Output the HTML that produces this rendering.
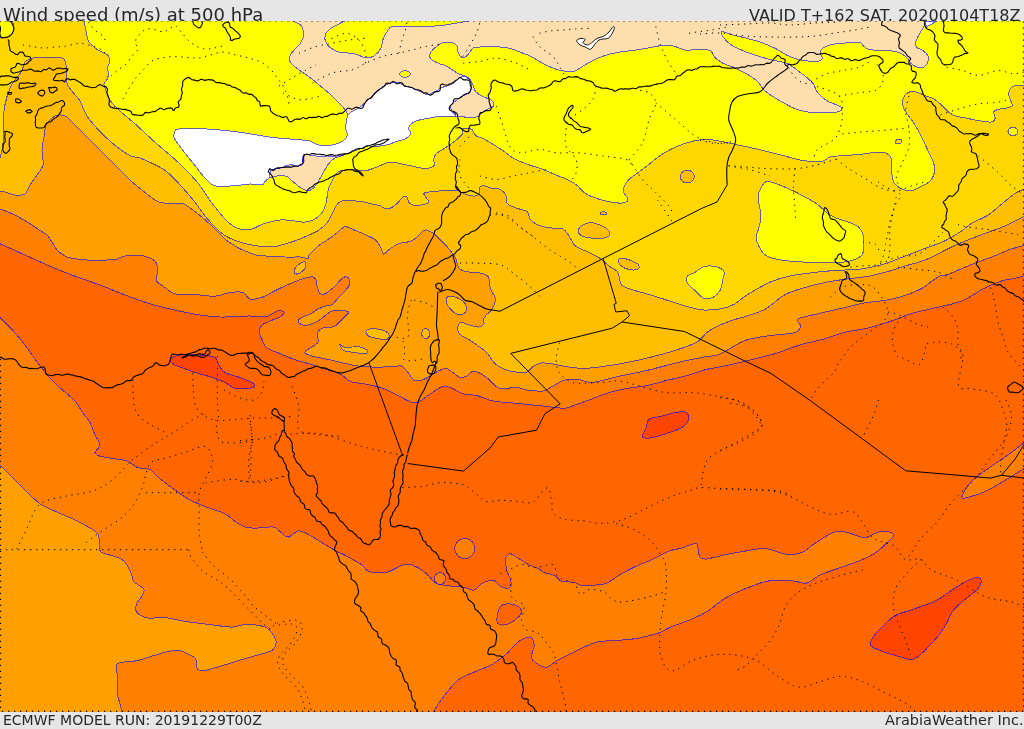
<!DOCTYPE html>
<html><head><meta charset="utf-8">
<style>
html,body{margin:0;padding:0;width:1024px;height:729px;overflow:hidden;background:#e6e6e6;}
#map{position:absolute;left:0;top:0;}
.t{position:absolute;font-family:"DejaVu Sans","Liberation Sans",sans-serif;color:#262626;white-space:nowrap;line-height:1;}
#hdr{position:absolute;left:0;top:0;width:1024px;height:21px;background:#e6e6e6;}
#ftr{position:absolute;left:0;top:712px;width:1024px;height:17px;background:#e6e6e6;}
</style></head><body>

<div class="t" id="t1" style="left:3px;top:6px;font-size:18px;">Wind speed (m/s) at 500 hPa</div>
<div class="t" id="t2" style="left:749px;top:8px;font-size:16px;">VALID T+162 SAT. 20200104T18Z</div>
<div class="t" id="t3" style="left:3px;top:713px;font-size:14px;">ECMWF MODEL RUN: 20191229T00Z</div>
<div class="t" id="t4" style="left:885px;top:713px;font-size:14.5px;">ArabiaWeather Inc.</div>
<svg id="map" width="1024" height="729" viewBox="0 0 1024 729">
<defs><clipPath id="mc"><rect x="0" y="21" width="1024" height="691"/></clipPath></defs>
<g clip-path="url(#mc)">
<rect x="-10" y="0" width="1050" height="740" fill="#ff6600"/>
<path d="M-6,14L-6,243.8L0,243.8C4.2,245.6 16.7,251.2 25,255C33.3,258.8 41.7,262.7 50,266.2C58.3,269.8 66.7,273.1 75,276.2C83.3,279.4 91.7,281.9 100,285C108.3,288.1 116.7,291.9 125,295C133.3,298.1 141.7,301.2 150,303.8C158.3,306.2 166.7,308.1 175,310C183.3,311.9 192.5,313.8 200,315C207.5,316.2 213.3,316.8 220,317C226.7,317.2 235,316.7 240,316.5C245,316.3 245.8,315.9 250,316C254.2,316.1 261.2,317.2 265,316.8C268.8,316.4 270.3,314.9 272.6,313.8C274.9,312.7 276.8,310.6 278.7,310.4C280.6,310.1 283.8,311.2 284,312.3C284.2,313.4 282.3,315.4 280.2,316.8C278.1,318.2 274.1,319.2 271.1,320.6C268.1,322 264,323.1 262,325C260,326.9 259,329.5 259,331.9C259,334.3 260.7,336.8 262,339.4C263.3,342 263.6,345.3 266.6,347.7C269.6,350.1 275.4,351.7 280.2,353.7C285,355.7 289.8,357.9 295.3,359.8C300.8,361.7 307.9,363.2 313.4,365C318.9,366.8 324.1,368.9 328.5,370.3C332.9,371.7 336.3,371.7 340,373.6C343.7,375.5 346.1,379.7 350.5,381.5C354.9,383.3 360.8,383 366.4,384.2C372,385.4 378.6,386.7 383.9,388.6C389.2,390.5 393.6,393.4 398,395.6C402.4,397.8 407.1,400.5 410.3,401.7C413.5,402.9 414.4,403.6 417.3,402.6C420.2,401.6 424.4,397.9 427.9,395.6C431.4,393.3 435.5,390.2 438.4,388.6C441.3,387 442.9,385.8 445.5,385.9C448.1,386 451.4,388.1 454.3,389.4C457.2,390.7 459.2,392.8 463,393.8C466.8,394.8 472.7,394.6 477.1,395.6C481.5,396.6 485.9,399 489.4,400C492.9,401 495,401.3 498.2,401.7C501.4,402.1 504.8,402.2 508.7,402.6C512.6,403 515.8,403.3 521.5,403.9C527.2,404.5 535.8,405.3 543,406C550.2,406.7 559.1,408.4 564.5,408.2C569.9,408 570.9,406.3 575.2,404.9C579.5,403.5 584.8,401.6 590.2,399.6C595.6,397.6 601.7,394.9 607.4,393.1C613.1,391.3 618.1,390.1 624.6,388.8C631.1,387.6 638.9,387 646.1,385.6C653.3,384.2 660.4,382 667.6,380.2C674.8,378.4 682.7,376.7 689.1,374.9C695.5,373.1 700.8,370.9 706.3,369.5C711.8,368.1 714.7,368.1 722,366.5C729.3,364.9 741.4,362.1 750.2,360C759,357.9 767,356 775,353.6C783,351.2 790.6,347.8 798.4,345.4C806.2,343 814,341.7 821.9,339.5C829.8,337.3 838.2,333.9 846,332C853.8,330.1 861,329.7 868.7,327.8C876.4,325.9 885.2,323.2 892.2,320.8C899.2,318.4 904.4,315.7 910.9,313.7C917.4,311.7 922.9,310.8 931.3,308.7C939.7,306.6 953,304.3 961.5,301.1C970,297.9 975.6,292.7 982.3,289.3C989,285.9 996,282.8 1001.5,281C1007,279.2 1011.5,279.2 1015.2,278.3C1019,277.4 1022.5,276.1 1024,275.6L1030,275.6L1030,14L-6,14Z" fill="#ff8000" stroke="#0000ff" stroke-opacity="0.6" stroke-width="1" shape-rendering="crispEdges"/>
<path d="M-6,317.5L0,317.5C2.1,319.6 8.3,325.4 12.5,330C16.7,334.6 20.8,339.6 25,345C29.2,350.4 33.3,357 37.5,362.5C41.7,368 45.8,373.4 50,378C54.2,382.6 58.3,386.2 62.5,390C66.7,393.8 71.7,397.2 75,401C78.3,404.8 80,408.9 82.5,412.5C85,416.1 87.9,418.8 90,422.5C92.1,426.2 93.3,431.2 95,435C96.7,438.8 100,442.1 100,445C100,447.9 95,450.6 95,452.5C95,454.4 96.7,455.2 100,456.2C103.3,457.3 110.4,457.9 115,458.8C119.6,459.6 123.8,459.8 127.5,461.2C131.2,462.7 133.8,466.1 137.5,467.5C141.2,468.9 146.2,467.6 150,469.5C153.8,471.4 155.8,475.3 160,478.8C164.2,482.2 170,486.5 175,490C180,493.5 184.6,497.1 190,500C195.4,502.9 201.7,505.2 207.5,507.5C213.3,509.8 220.4,511.4 225,513.8C229.6,516.1 231.7,519.3 235,521.5C238.3,523.7 241.6,525.9 245,527C248.4,528.1 250.5,528.2 255.2,528.2C259.9,528.2 268.8,526.4 273,527C277.2,527.6 278.1,530.3 280.6,532C283.1,533.7 285.2,537.3 288.2,537.1C291.2,536.9 295,531.2 298.4,530.8C301.8,530.4 304.8,532.7 308.6,534.6C312.4,536.5 317.1,539.7 321.3,542.2C325.5,544.7 329.8,547.5 334,549.8C338.2,552.1 342.1,553.7 346.7,556.2C351.3,558.7 358.4,562.5 361.9,565C365.4,567.5 365.1,569.7 367.6,571C370.1,572.3 373.9,572.5 377.1,572.7C380.3,572.9 384.1,572.7 386.7,572.3C389.2,571.9 389.2,571.5 392.4,570.1C395.6,568.7 401.7,564.5 405.9,564.1C410.1,563.7 414.1,565.8 417.8,567.6C421.5,569.5 424.9,572.6 427.9,575.2C430.9,577.8 432.4,581.4 436,583.2C439.6,585 445.1,585.3 449.6,586C454.2,586.7 459.2,586.6 463.3,587.3C467.4,588 471,590.8 474.2,590.1C477.4,589.4 479.2,584.8 482.4,583.2C485.6,581.6 490.3,580 493.4,580.5C496.5,581 498.4,585.3 501,586.5C503.6,587.7 507.6,588.8 509.2,587.9C510.8,587 511.3,584 510.9,581C510.5,578 507.7,573.8 506.8,570.1C505.9,566.5 505.3,561.6 505.5,559.1C505.7,556.6 506.9,555.9 507.8,555C508.7,554.1 509.3,553.2 510.9,553.7C512.5,554.2 515.6,556.6 517.4,557.7C519.2,558.8 520.1,559.4 521.9,560.5C523.7,561.6 525.7,563.2 528.4,564.6C531.1,566 535.5,567.3 538.3,568.7C541,570.1 542.2,571.7 544.9,572.8C547.6,573.9 552,574.1 554.7,575.5C557.4,576.9 558.1,579.9 561.3,581C564.5,582.1 570.6,581.7 573.8,582.4C577,583.1 577.8,584.6 580.5,585.1C583.2,585.6 586.1,585.3 590.2,585.1C594.3,584.9 600.3,585.5 605.2,583.8C610.1,582.1 614.2,578 619.5,575C624.8,572 631.1,568.6 636.7,566C642.3,563.4 647.6,561.6 653.1,559.1C658.6,556.6 664.7,552.7 669.5,550.9C674.3,549.1 678.6,549.1 682,548.1C685.4,547.1 687.5,545.7 690,545C692.5,544.3 695.3,542.2 696.9,544.1C698.5,546 698.2,553.9 699.6,556.4C701,558.9 703.5,558.8 705.1,559.1C706.7,559.5 706.2,559.2 709.4,558.5C712.6,557.8 718.1,556.3 724.2,555C730.3,553.7 739.2,552 746.1,550.9C753,549.8 759.4,548.1 765.9,548.6C772.4,549.1 779.1,553.3 785.1,554C791.1,554.7 796.6,554.5 801.6,552.7C806.6,550.9 809.8,546.5 815.3,543.1C820.8,539.7 829,533.8 834.5,532.1C840,530.4 843.2,531.8 848.2,532.7C853.2,533.6 859.7,537.7 864.7,537.6C869.7,537.5 874.3,533 878.4,532.1C882.5,531.2 886.9,531.4 889.4,532.1C891.9,532.8 894,534.4 893.5,536.2C893,538 889.6,540.4 886.6,543.1C883.6,545.9 880.2,549.7 875.6,552.7C871,555.7 865.1,558.4 859.2,560.9C853.3,563.4 846.4,565.5 840,567.8C833.6,570.1 826.3,572.1 820.8,574.6C815.3,577.1 811.2,581.8 807.1,582.9C803,584 799.8,582 796.1,581.5C792.4,581 790.1,580.1 785.1,580.1C780.1,580.1 773.3,579.8 765.9,581.5C758.5,583.2 747.5,587.7 740.6,590.6C733.7,593.5 729.7,595.4 724.2,598.8C718.7,602.2 713.3,607.7 707.8,611.1C702.3,614.5 697.8,616.6 691.4,619.3C685,622 675,625.2 669.5,627.5C664,629.8 664.1,631.2 658.6,633C653.1,634.8 644,637.1 636.7,638.4C629.4,639.7 621.2,640 614.8,640.6C608.4,641.2 603.9,640.5 598.4,641.7C592.9,642.9 587,645.8 582,648C577,650.2 572.5,652.8 568.4,654.8C564.3,656.8 561,658.2 557.4,660.3C553.8,662.4 549.7,666.5 546.5,667.2C543.3,667.9 540.8,666 538.3,664.4C535.8,662.8 532.1,660.8 531.4,657.6C530.7,654.4 534.4,648.7 534.2,645.3C534,641.9 532.6,637.8 530.1,637.1C527.6,636.4 522.3,639.2 519.1,641.2C515.9,643.2 513.4,647 510.9,649.4C508.4,651.8 507.7,653.1 504.3,655.7C500.9,658.4 495.6,662.6 490.6,665.3C485.6,668 479.7,669.6 474.2,672.1C468.7,674.6 463.3,675.7 457.8,680.3C452.3,684.9 445.5,694.2 441.4,699.5C437.3,704.8 434.6,709.9 433.2,712L433.2,718L-6,718L-6,317.5Z" fill="#ff8000" stroke="#0000ff" stroke-opacity="0.6" stroke-width="1" shape-rendering="crispEdges"/>
<path d="M962,496.5C962.5,494 966.6,486.7 970.6,482.3C974.6,477.9 980.2,474.2 985.7,470.2C991.2,466.2 1000.8,460.1 1003.8,458.1L1024,443L1030,440L1030,466L1024,468.7L1006.8,479.2C1003.3,481.2 992.2,488.3 985.7,491.3C979.2,494.3 971.5,496.5 967.5,497.4C963.5,498.3 961.5,499 962,496.5Z" fill="#ff8000" stroke="#0000ff" stroke-opacity="0.6" stroke-width="1" shape-rendering="crispEdges"/>
<path d="M474.8,548.5C474.8,550.2 474.3,552.1 473.5,553.5C472.6,554.9 471.2,556.3 469.8,557.2C468.4,558 466.5,558.5 464.8,558.5C463.1,558.5 461.2,558 459.8,557.2C458.4,556.3 457,554.9 456.1,553.5C455.3,552.1 454.8,550.2 454.8,548.5C454.8,546.8 455.3,544.9 456.1,543.5C457,542.1 458.4,540.7 459.8,539.8C461.2,539 463.1,538.5 464.8,538.5C466.5,538.5 468.4,539 469.8,539.8C471.2,540.7 472.6,542.1 473.5,543.5C474.3,544.9 474.8,546.8 474.8,548.5Z" fill="#ff8000" stroke="#0000ff" stroke-opacity="0.6" stroke-width="1" shape-rendering="crispEdges"/>
<path d="M445.5,578.5C445.5,579.5 445.2,580.6 444.8,581.5C444.3,582.4 443.5,583.2 442.8,583.7C442,584.2 440.9,584.5 440,584.5C439.1,584.5 438,584.2 437.2,583.7C436.5,583.2 435.7,582.4 435.2,581.5C434.8,580.6 434.5,579.5 434.5,578.5C434.5,577.5 434.8,576.4 435.2,575.5C435.7,574.6 436.5,573.8 437.2,573.3C438,572.8 439.1,572.5 440,572.5C440.9,572.5 442,572.8 442.8,573.3C443.5,573.8 444.3,574.6 444.8,575.5C445.2,576.4 445.5,577.5 445.5,578.5Z" fill="#ff8000" stroke="#0000ff" stroke-opacity="0.6" stroke-width="1" shape-rendering="crispEdges"/>
<path d="M498.8,609.2C499.9,606.1 501.6,605 504.3,604.3C507,603.6 512.3,604 515.2,605.1C518.1,606.2 521,608.6 521.5,610.6C522,612.6 520.4,615.1 518,617.4C515.6,619.7 510.4,623.4 507,624.3C503.6,625.2 498.9,625.4 497.5,622.9C496.1,620.4 497.7,612.3 498.8,609.2Z" fill="#ff6600" stroke="#0000ff" stroke-opacity="0.6" stroke-width="1" shape-rendering="crispEdges"/>
<path d="M-6,14L-6,209L0,209C2.5,210 9.7,212.3 15,215C20.3,217.7 27.8,222.4 32,225C36.2,227.6 37.5,228.8 40,230.5C42.5,232.2 45,233.1 47,235C49,236.9 50.3,239.5 52,242C53.7,244.5 55.3,248 57,250C58.7,252 60.3,252.8 62,254C63.7,255.2 64.8,256.2 67,257C69.2,257.8 71.7,258.2 75,258.8C78.3,259.2 83.7,259.6 87,260C90.3,260.4 91.7,261 95,261C98.3,261 103.7,260.2 107,260C110.3,259.8 112,260.2 115,259.5C118,258.8 121.7,256.7 125,256C128.3,255.3 131.7,255.5 135,255.5C138.3,255.5 141.7,255.3 145,256.2C148.3,257.2 152.8,259 155,261.2C157.2,263.5 157.8,266.9 158,270C158.2,273.1 155.9,277.7 156.2,280C156.6,282.3 158.5,282.8 160,284C161.5,285.2 162.5,285.9 165,287.5C167.5,289.1 170,292.6 175,293.8C180,294.9 188.3,294.1 195,294.5C201.7,294.9 209.2,296.6 215,296.2C220.8,295.9 225.3,293.1 230,292.5C234.7,291.9 239.7,291.4 243,292.5C246.3,293.6 246.8,298.2 250,299C253.2,299.8 257.5,298.8 262,297.2C266.5,295.6 272.1,292 277.2,289.6C282.2,287.2 287.8,284.7 292.3,282.8C296.8,280.9 301,279.3 304.3,278.3C307.6,277.3 310,276.7 311.9,276.8C313.8,276.9 314.7,277.4 315.6,279C316.5,280.6 316.5,284.2 317.2,286.6C317.9,289 318.5,292 319.7,293.2C320.9,294.4 323,294.4 324.6,294C326.2,293.6 327.6,292.2 329.5,290.7C331.4,289.2 334.4,286.7 336.1,285C337.9,283.3 338.5,281.9 340,280.5C341.5,279.1 343.4,277.1 345,276.8C346.6,276.6 348.6,277.6 349.3,279C350,280.4 349.9,283.2 349.3,285C348.8,286.8 347.6,288 346,289.9C344.4,291.8 341.3,294.4 339.4,296.5C337.5,298.6 335.9,300.8 334.5,302.2C333.1,303.6 332.8,304.4 331.2,305.1C329.6,305.8 326.8,305.7 324.6,306.4C322.4,307.1 320.2,308 318,309.2C315.8,310.4 313.6,312.2 311.4,313.4C309.2,314.6 306.9,315.2 304.8,316.2C302.7,317.2 300,318.4 299,319.5C298,320.6 298.2,321.8 299,322.8C299.8,323.8 301.9,325.1 304,325.3C306.1,325.5 308.9,324.8 311.4,324C313.9,323.2 316.5,321.8 318.8,320.4C321.1,319 323.2,317 325.4,315.4C327.6,313.8 329.7,311.7 332,310.9C334.3,310.1 336.8,310.4 339.4,310.5C342,310.6 346.2,310.9 347.7,311.3C349.2,311.7 349.1,312.1 348.5,313C347.9,313.9 346,315.4 344.4,317C342.8,318.6 340.2,321.2 338.6,322.8C337,324.4 336.4,325.7 334.5,326.5C332.6,327.3 329.2,327 327,327.4C324.8,327.8 322.8,327.9 321.3,328.6C319.8,329.4 318.6,330.7 318,331.9C317.4,333.1 317.6,334.2 317.6,336C317.6,337.8 318.8,340.6 317.9,342.4C316.9,344.2 313.9,345.6 311.9,347C309.9,348.4 306.8,349.6 305.8,350.7C304.8,351.8 304.3,352.7 305.8,353.7C307.3,354.7 311.1,355.8 314.9,356.8C318.7,357.8 324.3,358.6 328.5,359.5C332.7,360.4 335.1,361.1 340,362.2C344.9,363.3 351.7,365.2 357.6,366C363.5,366.8 369.4,367 375.2,367.1C381,367.2 388.3,366.8 392.7,366.6C397.1,366.4 399.1,365.3 401.5,366C403.9,366.7 404.8,368.7 406.8,371C408.9,373.3 411.5,378.2 413.8,379.8C416.1,381.4 418.3,381.2 420.9,380.6C423.5,380 426.7,377.8 429.6,376.2C432.5,374.6 435.8,372.3 438.4,371C441,369.7 443.4,368.3 445.5,368.3C447.6,368.3 448.4,369.5 450.7,371C453,372.5 456.9,376.2 459.5,377.1C462.1,378 464.6,377.1 466.6,376.2C468.7,375.3 469.8,372.5 471.8,371.9C473.9,371.3 476,371.4 478.9,372.7C481.8,374 486.5,377.4 489.4,379.8C492.3,382.2 494,385.3 496.4,386.8C498.8,388.3 500.9,388.5 503.5,388.6C506.1,388.8 509.5,387.8 512.3,387.7C515,387.6 517.8,387.6 520,388C522.2,388.4 522,389.4 525.8,389.9C529.6,390.4 538.7,391.5 543,391C547.3,390.5 548,388.5 551.6,386.7C555.2,384.9 560.2,381.4 564.5,380.2C568.8,378.9 573,378.8 577.3,379.2C581.6,379.6 585.9,382.2 590.2,382.4C594.5,382.6 598.1,381.3 603.1,380.2C608.1,379.1 613.8,377.3 620.3,375.9C626.8,374.5 634.6,373.2 641.8,371.6C649,370 656.1,368.1 663.3,366.3C670.5,364.5 677.6,362.5 684.8,360.9C692,359.3 700.4,357.8 706.3,356.6C712.2,355.5 713.5,356.7 720,354C726.5,351.3 736.5,343.6 745,340.5C753.5,337.4 762.7,336.8 771,335.5C779.3,334.2 790.1,334.1 795,332.5C799.9,330.9 800,328.2 800.5,326C801,323.8 795.2,321 798,319C800.8,317 809.9,315.8 817,314C824.1,312.2 832.8,310.3 840.6,308.5C848.4,306.7 856.2,304.4 864,303C871.8,301.6 880.5,301.3 887.5,300C894.5,298.7 900.4,297 906.2,295C912.1,293 918.3,290.3 922.6,288C926.9,285.7 929.1,283 932,281C934.9,279 937.6,277 940,276C942.4,275 941.4,276.9 946.6,275C951.8,273.1 963.5,267.7 971.3,264.6C979.1,261.5 986.9,258.9 993.3,256.4C999.7,253.9 1004.6,251.3 1009.7,249.5C1014.8,247.7 1021.6,246.1 1024,245.4L1030,245.4L1030,14L-6,14Z" fill="#ffa000" stroke="#0000ff" stroke-opacity="0.6" stroke-width="1" shape-rendering="crispEdges"/>
<path d="M-6,465L0,465C2.1,467.1 8.3,473.3 12.5,477.5C16.7,481.7 20.4,485.6 25,490C29.6,494.4 35,500.2 40,503.8C45,507.3 49.2,508.5 55,511.2C60.8,514 69.2,517.2 75,520C80.8,522.8 86.2,525.7 90,528C93.8,530.3 96.4,531.3 98,534C99.6,536.7 99,541 99.5,544C100,547 98.5,549.9 101,552C103.5,554.1 111,555 114.8,556.5C118.6,558 121.2,558.1 124,561C126.8,563.9 129.6,570.3 131.3,573.8C133,577.3 131.9,579.5 134,582C136.1,584.5 142.2,586.5 143.6,588.8C145,591.1 143.3,593.1 142.2,595.6C141,598.1 137.6,601.1 136.7,603.8C135.8,606.5 134.9,609.6 136.7,612C138.5,614.4 143.1,617.1 147.7,618C152.3,618.9 157.7,616.9 164.1,617.5C170.5,618.1 178.7,620.5 186,621.6C193.3,622.7 200.1,623.4 207.8,624.3C215.5,625.2 226,627.1 232.4,627.1C238.8,627.1 240.6,624.3 246.1,624.3C251.6,624.3 260.6,625.3 265.2,627.1C269.8,628.9 271.6,632.8 273.4,635.3C275.2,637.8 276.4,639.6 276.2,642.1C276,644.6 274.8,648.2 272.1,650.3C269.4,652.3 265.1,652.8 259.8,654.4C254.6,656 247.4,657.8 240.6,659.9C233.8,662 225.2,664.9 218.8,666.7C212.4,668.5 206.1,670.6 202.4,670.8C198.8,671 198.1,670.1 196.9,668.1C195.8,666.1 197.3,661 195.5,658.5C193.7,656 189,654.5 186,653.1C183,651.7 181.3,650.4 177.7,650.3C174,650.2 168.2,651.6 164.1,652.5C160,653.4 157.7,654.4 153.1,655.8C148.5,657.2 142.2,659.6 136.7,660.7C131.2,661.8 123.7,661.6 120.3,662.6C116.9,663.6 116.7,664.2 116.2,666.7C115.8,669.2 117.4,673.1 117.6,677.7C117.8,682.3 117.1,689.6 117.6,694.1C118,698.6 119.6,702 120.3,705C121,708 121.5,710.8 121.7,712L121.7,718L-6,718L-6,465Z" fill="#ffa000" stroke="#0000ff" stroke-opacity="0.6" stroke-width="1" shape-rendering="crispEdges"/>
<path d="M-6,14L-6,191L0,191C0.8,191.2 2.5,191.3 5,192C7.5,192.7 11.7,194.7 15,195C18.3,195.3 22.5,195.7 25,194C27.5,192.3 28,188.2 30,185C32,181.8 34.8,178.3 37,175C39.2,171.7 42.2,169.2 43,165C43.8,160.8 41.8,154.7 42,150C42.2,145.3 43.3,141.2 44,137C44.7,132.8 44.7,128.2 46,125C47.3,121.8 49.8,119.7 52,118C54.2,116.3 56.7,115.2 59,115C61.3,114.8 63.3,114.8 66,116.5C68.7,118.2 71,121.1 75,125C79,128.9 85,135 90,140C95,145 100,150 105,155C110,160 115.8,165.8 120,170C124.2,174.2 126.2,176.5 130,180C133.8,183.5 138.3,187.2 143,190.8C147.7,194.4 153,199.4 158,201.6C163,203.8 168.7,203.3 173,203.7C177.3,204.1 179.4,202.2 183.7,204C188,205.8 194.1,210.8 198.8,214.5C203.5,218.2 207.6,221.9 212,226C216.4,230.1 221.5,235.9 225,239C228.5,242.1 230.5,242.9 233,244.5C235.5,246.1 237.1,247.3 240,248.8C242.9,250.2 247.3,251.9 250.3,253C253.3,254.1 254.6,255 258,255.5C261.4,256 266.5,256 271,256.2C275.5,256.5 281,256.9 285,257C289,257.1 292.2,257 295,257C297.8,257 299.8,256.9 302,257.1C304.2,257.4 306.9,258.9 308.1,258.5C309.3,258.1 307.7,256.7 309,255C310.3,253.3 313.7,250.1 315.7,248.2C317.7,246.3 319.4,244.9 321,243.8C322.6,242.6 323,242.8 325.3,241.3C327.6,239.8 331.9,236.8 334.9,234.5C337.9,232.2 341.1,228.9 343.1,227.6C345.2,226.3 345.1,226.4 347.2,226.9C349.2,227.4 352.4,229.1 355.4,230.4C358.4,231.7 361.8,233 365,234.5C368.2,236 372.2,237.4 374.7,239.3C377.2,241.2 378.5,243.6 380,246C381.5,248.4 382.1,253.3 383.5,254C384.9,254.7 386,251.7 388.5,250C391,248.3 394.8,245.2 398.5,243.8C402.2,242.3 407.8,242.5 411,241.2C414.2,240 416,237.7 418,236C420,234.3 421.5,232 423,231C424.5,230 425.7,229.8 427,230C428.3,230.2 429.6,231.2 431,232C432.4,232.8 433.3,233 435.1,234.6C436.9,236.2 439.9,239.4 442,241.5C444.1,243.6 445.6,244.9 447.4,247C449.2,249.1 451.5,252 452.9,253.8C454.3,255.6 455,256.4 455.7,258C456.4,259.6 456.3,261.6 457,263.4C457.7,265.2 458.4,267.5 459.8,268.9C461.2,270.3 462.8,271 465.3,271.6C467.8,272.2 471.9,272 474.9,272.3C477.9,272.6 480.8,272.9 483.1,273.7C485.4,274.5 487.6,275.4 488.6,277.1C489.6,278.8 488.9,281.7 489.3,284C489.8,286.3 490.4,288.8 491.3,290.8C492.2,292.9 494.2,294.2 494.8,296.3C495.4,298.4 495.4,300.9 494.8,303.2C494.2,305.5 492.8,307.9 491.3,310C489.8,312.1 487.2,313.7 485.8,315.5C484.4,317.3 483.4,319.6 483.1,321C482.8,322.4 484.7,323 484,324C483.3,325 481.3,326.8 479,327C476.7,327.2 472.9,326 470,325.3C467.1,324.6 463.3,322.3 461.3,322.6C459.3,322.9 458.1,325.1 457.8,327C457.5,328.9 457.8,331.9 459.5,334C461.2,336.1 465.1,337.2 468.3,339.3C471.5,341.4 476,344.3 478.9,346.4C481.8,348.4 483.8,349.6 485.9,351.6C487.9,353.7 489.4,356.5 491.2,358.7C492.9,360.9 493.8,362.9 496.4,364.8C499,366.7 504.2,369 507,370.1C509.8,371.2 509.8,371.2 512.9,371.6C516,372 522.6,373.4 525.8,372.7C529,372 529.7,368.9 532.2,367.3C534.7,365.7 537.2,363.5 540.8,363C544.4,362.5 549.8,363.6 553.7,364.1C557.7,364.7 559.9,365.6 564.5,366.3C569.1,367 576.2,368.2 581.6,368.4C587,368.6 590.6,368 596.7,367.3C602.8,366.6 611.1,365.4 618.2,364.1C625.4,362.9 632.5,361.4 639.6,359.8C646.8,358.2 653.9,356.5 661.1,354.5C668.3,352.5 676.5,350.1 682.6,348C688.7,345.9 693.8,344.1 697.7,341.6C701.7,339.1 703.4,335.3 706.3,333C709.1,330.7 710.8,329.6 714.8,327.6C718.8,325.6 725.1,322.7 730.5,320.8C735.9,318.9 741,318.1 746.9,316.1C752.8,314.1 759.4,312.5 765.6,309C771.9,305.5 778.1,298.5 784.4,295C790.6,291.5 796.1,290.1 803.1,288C810.1,285.9 818.8,283.7 826.6,282.1C834.4,280.5 843,279.6 850,278.6C857,277.6 862.5,277.4 868.7,276.2C875,275 881.2,273.4 887.5,271.6C893.8,269.9 899.6,267.8 906.2,265.7C912.9,263.6 919.3,262.5 927.4,259.1C935.5,255.7 945.8,249.5 954.9,245.4C964,241.3 974.1,237.6 982.3,234.4C990.5,231.2 997.3,229.2 1004.3,226.2C1011.2,223.2 1020.7,218.2 1024,216.6L1030,216.6L1030,14L-6,14Z" fill="#ffbf00" stroke="#0000ff" stroke-opacity="0.6" stroke-width="1" shape-rendering="crispEdges"/>
<path d="M294,272C293.8,270.8 294.8,268.5 296,267C297.2,265.5 299.5,263.8 301,263C302.5,262.2 304.2,261.3 305,262C305.8,262.7 306,265.4 305.5,267C305,268.6 303.4,270.3 302,271.5C300.6,272.7 298.3,273.9 297,274C295.7,274.1 294.2,273.2 294,272Z" fill="#ffbf00" stroke="#0000ff" stroke-opacity="0.6" stroke-width="1" shape-rendering="crispEdges"/>
<path d="M366.4,330.5C367.6,329.3 372,328.7 375.2,328.8C378.4,328.9 383.4,330.2 385.7,331.4C388,332.6 389,334.5 389.2,335.8C389.4,337.1 388.7,338.9 386.6,339.3C384.6,339.8 380,339.1 376.9,338.5C373.8,337.9 369.9,337.1 368.1,335.8C366.4,334.5 365.2,331.7 366.4,330.5Z" fill="#ffbf00" stroke="#0000ff" stroke-opacity="0.6" stroke-width="1" shape-rendering="crispEdges"/>
<path d="M339.8,344C339.8,343.4 341.5,346.5 343.6,347C345.7,347.5 350.3,347.1 352.6,347C354.9,346.9 355.6,346.1 357.6,346.4C359.6,346.7 363,347.7 364.7,348.6C366.4,349.5 367.9,350.8 367.9,351.6C367.9,352.5 367.2,353.6 364.7,353.7C362.1,353.8 356.1,352.8 352.6,352.2C349.1,351.6 345.7,351.8 343.6,350.4C341.5,349 339.8,344.6 339.8,344Z" fill="#ffbf00" stroke="#0000ff" stroke-opacity="0.6" stroke-width="1" shape-rendering="crispEdges"/>
<path d="M429.7,333.6C429.7,334.4 429.5,335.4 429.2,336.1C428.8,336.8 428.3,337.5 427.7,337.9C427.1,338.3 426.4,338.6 425.7,338.6C425,338.6 424.3,338.3 423.7,337.9C423.1,337.5 422.6,336.8 422.2,336.1C421.9,335.4 421.7,334.4 421.7,333.6C421.7,332.8 421.9,331.8 422.2,331.1C422.6,330.4 423.1,329.7 423.7,329.3C424.3,328.9 425,328.6 425.7,328.6C426.4,328.6 427.1,328.9 427.7,329.3C428.3,329.7 428.8,330.4 429.2,331.1C429.5,331.8 429.7,332.8 429.7,333.6Z" fill="#ffbf00" stroke="#0000ff" stroke-opacity="0.6" stroke-width="1" shape-rendering="crispEdges"/>
<path d="M446.7,297.7C447.5,296.6 449.3,296.1 451.5,296.3C453.7,296.5 457.5,297.7 459.8,299C462.1,300.3 464.2,302.1 465.3,303.9C466.4,305.7 467.1,308.3 466.6,310C466.1,311.7 464.3,313.6 462.5,314.2C460.7,314.8 457.8,314.4 455.7,313.5C453.6,312.6 451.7,310.4 450.2,308.7C448.7,307 447.3,305 446.7,303.2C446.1,301.4 445.9,298.8 446.7,297.7Z" fill="#ffbf00" stroke="#0000ff" stroke-opacity="0.6" stroke-width="1" shape-rendering="crispEdges"/>
<path d="M-6,14L-6,158L0,158C0.3,156.7 1.4,153.3 2,150C2.6,146.7 3.3,142.8 3.5,138C3.7,133.2 3,126.6 3.3,121C3.5,115.4 3.9,110 5,104.5C6.1,99 8.3,92.1 10,88C11.7,83.9 13.1,82.8 15,80C16.9,77.2 20,74 21.7,71C23.4,68 23.6,64 25,62C26.4,60 28.1,59.7 30,59C31.9,58.3 31.7,57.9 36.7,57.7C41.7,57.5 55.3,57.2 60,57.7C64.7,58.2 63.9,58.8 65,61C66.1,63.2 66.5,67.4 66.8,71C67.1,74.6 66,79.5 66.8,82.8C67.6,86.1 69.6,88 71.8,91C74,94 77.5,96.8 80,101C82.5,105.2 83.7,110.9 87,116C90.3,121.1 95,126.3 100,131.5C105,136.7 112,143 117,147C122,151 126.2,153.7 130,155.5C133.8,157.3 136.4,156.8 140,158C143.6,159.2 147.1,160.8 151.5,163C155.9,165.2 161.5,167.6 166.5,171.5C171.5,175.4 176.9,181.5 181.6,186.5C186.3,191.5 190.2,196.2 194.5,201.6C198.8,207 202.7,213.4 207.3,218.8C212,224.1 217.4,230 222.4,233.8C227.4,237.6 232,239.3 237.4,241.3C242.8,243.3 248.9,244.7 254.6,245.6C260.3,246.5 267.6,246.7 271.8,246.7C276,246.7 276.4,246.3 280,245.4C283.6,244.5 289.1,242.9 293.7,241.3C298.3,239.7 303.3,237.6 307.4,235.8C311.5,234 315.2,232.5 318.4,230.4C321.6,228.3 324.3,226.2 326.6,223.5C328.9,220.8 330.5,216.9 332.1,213.9C333.7,210.9 334.8,207.8 336.2,205.7C337.6,203.6 338.8,202.5 340.4,201.6C342,200.7 343.3,200.3 345.8,200.2C348.3,200.1 352.2,200.6 355.4,200.9C358.6,201.2 362,201.6 365,202.2C368,202.8 370.8,203.7 373.3,204.3C375.8,204.9 378.2,205.1 380,205.7C381.8,206.3 382.3,207.6 384,208C385.7,208.4 387.9,209 390,208.3C392.1,207.6 394.6,205.6 396.6,203.9C398.6,202.2 400.7,199.2 402,197.9C403.3,196.6 403.4,196.3 404.3,196.2C405.2,196.1 406.9,196.3 407.6,197.3C408.3,198.3 407.4,200.9 408.7,202.3C410,203.7 412.8,205.2 415.2,205.6C417.6,206 420.6,205.1 422.9,204.5C425.2,203.9 428.6,203.7 429,202.3C429.4,200.9 425.8,197.8 425.1,196.2C424.4,194.6 422.8,193.7 424.6,192.9C426.4,192.1 431.8,191.8 436.1,191.3C440.4,190.9 446.8,190.3 450.4,190.2C454,190.1 455.3,190 458,190.7C460.7,191.4 464.1,193.7 466.8,194.6C469.6,195.5 472.5,196.3 474.5,196.2C476.5,196.1 478.1,195.5 478.9,194C479.7,192.5 478.6,188.8 479.5,187.4C480.4,186 482.6,185.7 484.4,185.8C486.2,185.9 487.9,187.3 490.5,187.9C493.1,188.5 497.4,188.2 500,189.4C502.6,190.6 504.7,192.9 505.9,195.2C507.1,197.5 505.2,201.2 507,203.4C508.8,205.6 513.1,206.7 516.4,208.1C519.7,209.5 524.6,209.6 527,211.6C529.4,213.6 528.4,217.5 530.5,219.8C532.6,222.2 536.3,224.3 539.8,225.7C543.3,227.1 547.7,227.4 551.6,228C555.5,228.6 560.4,227.8 563.3,229.2C566.2,230.6 567.1,233.5 569.1,236.2C571.1,238.9 572.1,243 575,245.6C577.9,248.2 582.8,249.6 586.7,251.5C590.6,253.4 594.5,254.8 598.4,257.3C602.3,259.8 607,264.4 610.1,266.7C613.2,269 615.6,269.4 617.2,271.4C618.8,273.3 618.7,276 619.5,278.4C620.3,280.8 619.5,283.6 621.9,285.5C624.2,287.4 628.9,288.6 633.6,290.1C638.3,291.7 644.1,293 650,294.8C655.9,296.6 662.5,298.7 668.7,300.7C675,302.7 681.6,305.1 687.5,306.6C693.4,308.2 698,309.7 703.9,310C709.8,310.3 717.5,309.4 722.6,308.4C727.7,307.4 730.4,306.4 734.4,304.2C738.4,302 740.9,298.7 746.9,295C752.9,291.3 763.3,285.2 770.3,282.1C777.3,279 782,277.8 789,276.2C796,274.6 804.7,273.7 812.5,272.7C820.3,271.7 828.1,271 835.9,270.4C843.7,269.8 851.6,270.2 859.4,269.2C867.2,268.2 875.8,266.4 882.8,264.5C889.8,262.6 895,260 901.5,257.5C908,255 914.9,252.2 922,249.5C929.1,246.8 937.5,244.3 943.9,241.3C950.3,238.3 955.8,234.7 960.4,231.7C965,228.7 966.7,226.2 971.3,223.5C975.9,220.8 982.8,218.4 987.8,215.2C992.8,212 996.9,207.8 1001.5,204.2C1006.1,200.5 1011.5,195.8 1015.2,193.3C1019,190.8 1022.5,189.9 1024,189.2L1030,189.2L1030,14L-6,14Z" fill="#ffd700" stroke="#0000ff" stroke-opacity="0.6" stroke-width="1" shape-rendering="crispEdges"/>
<path d="M578.4,230C578.8,228 581.7,225.4 584.2,224.2C586.7,223 590.1,222.4 593.6,223C597.1,223.6 602.6,225.9 605.3,227.7C608,229.5 610,231.9 610,233.6C610,235.3 608,237 605.3,237.8C602.6,238.6 597.5,238.6 593.6,238.3C589.7,238 584.4,237.4 581.9,236C579.4,234.6 578,232 578.4,230Z" fill="#ffbf00" stroke="#0000ff" stroke-opacity="0.6" stroke-width="1" shape-rendering="crispEdges"/>
<path d="M606.7,213.3C606.7,213.6 606.5,213.9 606.3,214.1C606,214.3 605.6,214.6 605.1,214.7C604.6,214.8 604,214.9 603.5,214.9C603,214.9 602.4,214.8 601.9,214.7C601.4,214.6 601,214.3 600.7,214.1C600.5,213.9 600.3,213.6 600.3,213.3C600.3,213 600.5,212.7 600.7,212.5C601,212.3 601.4,212 601.9,211.9C602.4,211.8 603,211.7 603.5,211.7C604,211.7 604.6,211.8 605.1,211.9C605.6,212 606,212.3 606.3,212.5C606.5,212.7 606.7,213 606.7,213.3Z" fill="#ffbf00" stroke="#0000ff" stroke-opacity="0.6" stroke-width="1" shape-rendering="crispEdges"/>
<path d="M618.3,259.7C618.9,258.5 621.9,258.3 624.2,258.5C626.5,258.7 629.6,260 632,261C634.4,262 637.2,263.1 638.3,264.4C639.3,265.7 639.9,268.1 638.3,269C636.7,269.9 631.8,270.1 628.9,269.5C626,268.9 622.5,267.1 620.7,265.5C618.9,263.9 617.7,260.9 618.3,259.7Z" fill="#ffbf00" stroke="#0000ff" stroke-opacity="0.6" stroke-width="1" shape-rendering="crispEdges"/>
<path d="M694.2,176.6C694.2,177.7 693.8,178.8 693.3,179.8C692.7,180.7 691.7,181.5 690.7,182.1C689.7,182.6 688.4,182.9 687.2,182.9C686,182.9 684.7,182.6 683.7,182.1C682.7,181.5 681.7,180.7 681.1,179.8C680.6,178.8 680.2,177.7 680.2,176.6C680.2,175.5 680.6,174.4 681.1,173.4C681.7,172.5 682.7,171.7 683.7,171.1C684.7,170.6 686,170.3 687.2,170.3C688.4,170.3 689.7,170.6 690.7,171.1C691.7,171.7 692.7,172.5 693.3,173.4C693.8,174.4 694.2,175.5 694.2,176.6Z" fill="#ffbf00" stroke="#0000ff" stroke-opacity="0.6" stroke-width="1" shape-rendering="crispEdges"/>
<path d="M84,14L84,21C84.3,22.7 85.2,27.7 86,31C86.8,34.3 86.7,37.9 88.5,41C90.3,44.1 93.9,47.2 97,49.4C100.1,51.6 104.8,52.5 107,54.4C109.2,56.3 110,58.7 110,61C110,63.3 107.2,66 107,68C106.8,70 108.5,71.1 108.5,73C108.5,74.9 107.8,77.6 107,79.5C106.2,81.4 104,82.2 104,84.5C104,86.8 105.7,89.9 107,93C108.3,96.1 109.8,100 112,103C114.2,106 116.5,107.8 120,111C123.5,114.2 128.8,118.3 133,122C137.2,125.7 141,129.3 145,133C149,136.7 152.8,140.3 157,144C161.2,147.7 165.5,151 170,155C174.5,159 179.3,163.3 184,168C188.7,172.7 193.8,177.8 198,183C202.2,188.2 205.5,194.2 209,199C212.5,203.8 215.8,208.2 219,212C222.2,215.8 224.8,219.2 228,222C231.2,224.8 234.3,227.2 238,228.5C241.7,229.8 246.1,230.2 250.3,229.5C254.5,228.8 258.2,225.6 263.2,224C268.1,222.4 274.9,220.5 280,220C285.1,219.5 289.6,220.5 293.7,220.8C297.8,221.2 301.3,222.3 304.7,222.1C308.1,221.9 311.6,220.8 314.3,219.4C317.1,218 319.4,216.2 321.2,213.9C323,211.6 324.3,208.7 325.3,205.7C326.3,202.7 326.7,199 327.3,196C327.9,193 328,190.1 328.7,187.8C329.4,185.5 330.4,184.4 331.4,182.3C332.4,180.2 333.6,177.3 334.9,175.5C336.2,173.7 336.4,172.4 339,171.4C341.6,170.4 347.2,169.7 350.4,169.5C353.6,169.3 355.5,169.8 358,170C360.5,170.2 363,170.9 365.5,170.7C368,170.4 370.5,169.4 373,168.5C375.5,167.6 378,166.5 380.5,165.5C383,164.5 385.5,162.9 388,162.4C390.5,161.9 393.4,162.4 395.6,162.6C397.8,162.8 398.3,163.2 401,163.8C403.7,164.4 408.5,165.3 412,166C415.5,166.7 418.7,167.9 421.8,168.2C424.9,168.5 428.4,168.3 430.6,167.7C432.8,167.1 434.5,165.7 435,164.4C435.5,163.1 433.2,161.8 433.4,160C433.6,158.2 434.5,155.5 436,153.8C437.5,152.1 440.1,151.3 442.6,149.7C445.1,148.1 448.3,145.8 450.8,144C453.3,142.2 455.5,140.7 457.4,139C459.3,137.3 461.5,135.7 462.3,134C463.1,132.3 461.8,130 462.3,129.1C462.9,128.2 464,128.3 465.6,128.3C467.2,128.3 470,128.1 471.7,129.3C473.4,130.5 474.1,134.1 476,135.7C477.9,137.3 480.2,137 483.4,138.7C486.6,140.4 491.7,143.5 495.2,145.7C498.7,147.8 501.4,149.4 504.5,151.6C507.6,153.8 510,156.4 513.9,158.6C517.8,160.8 523.3,162.8 528,164.5C532.7,166.2 537.3,167.3 542,169.1C546.7,170.8 551.7,173.2 556,175C560.3,176.8 564.3,177.9 567.8,179.7C571.3,181.4 574.5,183.3 577.2,185.5C579.9,187.7 581.5,190.6 584.2,192.6C586.9,194.6 590.1,195.9 593.6,197.3C597.1,198.7 601,199.8 605.3,200.8C609.6,201.8 615.9,202.9 619.4,203.1C622.9,203.3 625,202.8 626.4,202C627.8,201.2 628,200 627.6,198.4C627.2,196.8 624.6,194.6 624,192.6C623.4,190.6 623.2,188.8 624,186.7C624.8,184.5 626.4,182 628.7,179.7C631,177.4 634.9,175 638,172.7C641.1,170.3 644,168.3 647.5,165.6C651,162.8 655.3,158.9 659.2,156.2C663.1,153.5 666.7,151.3 671,149.2C675.3,147.1 680.2,145 685,143.4C689.8,141.8 695.3,140.4 700,139.8C704.7,139.2 707.2,139.2 713.4,140C719.5,140.8 729.1,143.1 736.9,144.7C744.7,146.3 752.5,148 760.3,149.8C768.1,151.6 776.7,153.9 783.7,155.7C790.7,157.5 796.2,159.4 802.5,160.4C808.8,161.4 816.5,162.2 821.2,161.6C825.9,161 827.1,157.9 830.6,156.9C834.1,155.9 837.6,156.1 842.3,155.7C847,155.3 852.8,155.1 858.7,154.5C864.6,153.9 872.8,152.4 877.5,152.2C882.2,152 884.6,152.2 886.9,153.4C889.2,154.6 890.7,156.3 891.5,159.2C892.3,162.1 891.1,167 891.5,170.9C891.9,174.8 892.3,179.8 893.9,182.7C895.5,185.6 898.2,187.1 900.9,188.5C903.6,189.9 907.2,191.1 910.3,190.9C913.4,190.7 916.2,189.2 919.7,187.3C923.2,185.4 929.1,183.2 931.5,179.6C933.9,176 935,170.8 934.3,165.8C933.6,160.8 929.9,154.9 927.4,149.4C924.9,143.9 921.9,137.6 919.5,133C917.1,128.4 915.2,125.3 913,122C910.8,118.7 908.2,115.7 906.5,113C904.8,110.3 903.5,108.6 903,106C902.5,103.4 902.2,99.9 903.5,97.5C904.8,95.1 908.4,92.2 910.9,91.4C913.4,90.7 916.1,92.2 918.7,93C921.3,93.8 923.9,95.1 926.5,96.1C929.1,97.1 931.7,97.7 934.3,99.2C936.9,100.8 939.8,103.4 942.1,105.5C944.5,107.6 946.3,110 948.4,111.8C950.5,113.5 951.7,114.7 954.6,115.7C957.5,116.7 961.2,117.1 965.6,118C970,118.9 976.8,120.4 981.2,121.1C985.6,121.8 989.8,122.4 992.1,121.9C994.4,121.4 995,119.7 995.2,118C995.5,116.3 993.2,113.2 993.7,111.8C994.2,110.3 996.1,110.1 998.4,109.4C1000.7,108.7 1005.4,108.5 1007.8,107.8C1010.1,107.1 1012,106.9 1012.4,105.5C1012.8,104.1 1010.6,101.3 1010,99.2C1009.4,97.2 1008.1,95.1 1008.5,93C1008.9,90.9 1010.5,88 1012.4,86.8C1014.3,85.5 1018.1,85.5 1020,85.2C1021.9,84.9 1023.3,85.2 1024,85.2L1030,85.2L1030,14L84,14Z" fill="#ffff00" stroke="#0000ff" stroke-opacity="0.6" stroke-width="1" shape-rendering="crispEdges"/>
<path d="M687.5,276C688.7,274.2 691.8,274.2 694.5,272.6C697.2,271.1 700.4,267.7 703.9,266.7C707.4,265.7 712.3,265.9 715.6,266.7C718.9,267.5 722.6,269 723.8,271.4C725,273.8 723.2,277.7 722.6,280.8C722,283.9 721.8,287.4 720.3,290.1C718.8,292.8 716,295.8 713.3,297.2C710.6,298.6 707,299.5 703.9,298.3C700.8,297.1 697.2,292.6 694.5,290.1C691.8,287.6 688.7,285.5 687.5,283.1C686.3,280.8 686.3,277.8 687.5,276Z" fill="#ffff00" stroke="#0000ff" stroke-opacity="0.6" stroke-width="1" shape-rendering="crispEdges"/>
<path d="M767.3,181.5C770.7,181.3 777.3,184.2 782,186C786.7,187.8 789.8,189.1 795.5,192C801.2,194.9 810.6,199.8 816.5,203.7C822.4,207.6 825.1,212.4 830.6,215.5C836.1,218.6 844.7,220.6 849.4,222.5C854.1,224.4 856.5,225.3 858.7,227.2C861,229.1 862.1,230.9 862.9,234C863.7,237.1 863.8,242.3 863.6,245.8C863.4,249.3 864,252.7 861.7,255.2C859.4,257.7 854.3,259.8 850,261C845.7,262.2 841.4,262.4 835.9,262.7C830.4,263 823.5,262.9 817.2,262.7C811,262.5 804.6,262.2 798.4,261.7C792.1,261.2 785.2,260.9 779.7,259.8C774.2,258.7 769.1,257.5 765.6,255.2C762.1,252.9 760.2,248.9 758.6,245.8C757,242.7 756.2,239.2 756.2,236.4C756.2,233.6 757.8,231.7 758.5,229C759.2,226.3 760.2,223 760.5,220C760.8,217 760.7,214.7 760.3,210.8C759.9,206.9 757.8,200.7 758,196.7C758.2,192.7 760,189.5 761.5,187C763,184.5 763.9,181.7 767.3,181.5Z" fill="#ffff00" stroke="#0000ff" stroke-opacity="0.6" stroke-width="1" shape-rendering="crispEdges"/>
<path d="M1018,131.5C1018,132.2 1017.7,132.9 1017.3,133.5C1016.9,134.1 1016.2,134.6 1015.5,135C1014.8,135.3 1013.8,135.5 1013,135.5C1012.2,135.5 1011.2,135.3 1010.5,135C1009.8,134.6 1009.1,134.1 1008.7,133.5C1008.3,132.9 1008,132.2 1008,131.5C1008,130.8 1008.3,130.1 1008.7,129.5C1009.1,128.9 1009.8,128.4 1010.5,128C1011.2,127.7 1012.2,127.5 1013,127.5C1013.8,127.5 1014.8,127.7 1015.5,128C1016.2,128.4 1016.9,128.9 1017.3,129.5C1017.7,130.1 1018,130.8 1018,131.5Z" fill="#ffff00" stroke="#0000ff" stroke-opacity="0.6" stroke-width="1" shape-rendering="crispEdges"/>
<path d="M902,140.7C902.1,141 902,141.5 901.8,141.9C901.6,142.2 901.2,142.7 900.7,143C900.3,143.3 899.6,143.6 899.1,143.7C898.5,143.9 897.8,143.9 897.3,143.9C896.7,143.9 896.1,143.7 895.8,143.5C895.4,143.2 895.1,142.9 895,142.5C894.9,142.2 895,141.7 895.2,141.3C895.4,141 895.8,140.5 896.3,140.2C896.7,139.9 897.4,139.6 897.9,139.5C898.5,139.3 899.2,139.3 899.7,139.3C900.3,139.3 900.9,139.5 901.2,139.7C901.6,140 901.9,140.3 902,140.7Z" fill="#ffd700" stroke="#0000ff" stroke-opacity="0.6" stroke-width="1" shape-rendering="crispEdges"/>
<path d="M-6,14L8.2,14L11,20.5C11.3,20.9 12.6,21.4 13,22.7C13.4,24 13.8,26.4 13.7,28.2C13.6,30 13.2,32.2 12.3,33.7C11.4,35.2 8.9,36.5 8.2,37.1L2.7,37.8L-6,37.8L-6,14Z" fill="#ffff00" stroke="#0000ff" stroke-opacity="0.6" stroke-width="1" shape-rendering="crispEdges"/>
<path d="M293,21L301.5,25.5C301.9,26.8 303.6,30.3 303.6,33C303.6,35.7 302.8,39.1 301.5,41.6C300.2,44.1 297.8,45.9 296,48C294.2,50.1 291.8,52.3 290.7,54.5C289.6,56.7 288.6,58.7 289.7,61C290.8,63.3 293.9,66 297,68.5C300.1,71 304.4,73.3 308,76C311.6,78.7 314.9,81.4 318.7,84.6C322.5,87.8 327.3,91.6 331,95C334.7,98.4 338.5,102.3 341,105C343.5,107.7 344.2,108.8 346,111C347.8,113.2 346.3,116.2 352,118C357.7,119.8 368.7,123 380,122C391.3,121 408,113.7 420,112C432,110.3 446.1,111.3 452,112C457.9,112.7 454,115.5 455.7,116.3C457.4,117.1 459.6,116.6 462.3,116.8C465.1,117 469.4,117.7 472.2,117.6C474.9,117.5 477.2,116.8 478.8,116C480.4,115.2 480.4,113.9 482,112.7C483.6,111.5 486.8,109.6 488.6,108.6C490.4,107.6 492,107.9 492.8,106.9C493.6,105.9 494,104 493.6,102.8C493.2,101.6 492.2,100.6 490.3,99.5C488.4,98.4 484.5,97.6 482,96.2C479.5,94.8 477,93.2 475.5,91.3C474,89.4 474,86.8 473,84.7C472,82.7 471.2,80.5 469.7,79C468.2,77.5 465.9,76.5 464,75.6C462.1,74.7 460,74.5 458,73.5C456,72.5 454,70.9 452,69.6C450,68.3 448,66.8 445.8,65.8C443.6,64.8 441.2,64.4 439,63.5C436.8,62.6 434.2,61.5 432.7,60.5C431.2,59.5 430.4,58.8 430,57.5C429.6,56.2 429.7,54.6 430.5,53C431.3,51.4 432.6,49.7 434.7,48C436.8,46.3 440.1,43.6 443,42.7C445.9,41.8 449.7,42.2 452,42.7C454.3,43.2 456,44.4 457,46C458,47.6 457.1,50.4 458,52.4C458.9,54.4 461.1,57.2 462.6,57.7C464.1,58.2 465.2,57.2 467,55.6C468.8,54 471.1,49.4 473.3,48C475.5,46.6 476.7,47.2 480,47C483.3,46.8 488.2,46.4 492.9,46.6C497.6,46.8 503.4,47 508,48C512.6,49 516.9,50.9 520.8,52.4C524.7,53.9 527.6,54.7 531.6,56.7C535.6,58.7 540.2,62.1 544.5,64.2C548.8,66.3 552.6,68.3 557.3,69.6C561.9,70.8 568.4,72.1 572.4,71.7C576.4,71.3 577.8,69.2 581,67.4C584.2,65.6 587.8,63 591.7,61C595.6,59 600.3,57 604.6,55.6C608.9,54.2 612.5,53.3 617.5,52.4C622.5,51.5 629.7,50.9 634.7,50.2C639.7,49.5 643,48.8 647.6,48C652.2,47.2 658.3,45.8 662.6,45.5C666.9,45.2 669.5,45.2 673.4,46C677.3,46.8 681.9,49.7 686.3,50.2C690.7,50.7 696,48.9 700,49C704,49.1 708.1,49.5 710.5,50.8C712.9,52.1 712.6,55 714.6,57C716.6,59 719.4,61.3 722.8,63.1C726.2,64.9 731,66.2 735,68C739,69.8 743.2,71.7 747,74C750.8,76.3 754.9,79 757.7,81.6C760.5,84.2 761.4,87.4 763.8,89.8C766.2,92.2 768.9,93.9 772,95.9C775.1,98 778.2,99.9 782.3,102.1C786.4,104.3 791.5,107.5 796.6,109.3C801.7,111.1 807.5,112.1 813,112.7C818.5,113.3 825,112.9 829.5,112.7C834,112.5 837.7,112 839.7,111.3C841.8,110.5 842.1,109.2 841.8,108.2C841.5,107.2 839.8,106.2 837.7,105.2C835.7,104.2 831.9,103.3 829.5,102.1C827.1,100.9 825.3,99.7 823.3,98C821.2,96.3 818.9,94.2 817.2,91.8C815.5,89.4 814.7,86 813,83.6C811.3,81.2 809.3,79.5 806.9,77.5C804.5,75.5 801.4,73.3 798.7,71.3C796,69.2 792.6,66.6 790.5,65.2C788.4,63.8 787.8,63.6 786,63C784.2,62.4 782.3,62 780,61.5C777.7,61 775.7,60.9 772,60C768.3,59.1 762.5,57.5 757.7,56C752.9,54.5 747.8,52.7 743.3,50.8C738.8,48.9 734.3,46.9 731,44.7C727.7,42.5 725.1,39.7 723.5,37.5C721.9,35.3 720.2,32 721.5,31.5C722.8,31 726.7,33.2 731,34.4C735.3,35.6 742.3,37.1 747.4,38.5C752.5,39.9 757,40.9 761.8,42.6C766.6,44.3 772,46.7 776.1,48.8C780.2,50.9 783,53.3 786.4,55C789.8,56.7 792.8,58 796.6,59C800.4,60 805.2,60.8 809,61.1C812.8,61.5 817,61.6 819.2,61.1C821.4,60.6 822.1,59.5 822.3,58C822.5,56.5 819.7,53.7 820.2,51.8C820.7,49.9 822.5,48.1 825.4,46.7C828.3,45.3 832.9,44.3 837.7,43.6C842.5,42.9 850.2,42.8 854,42.6C857.8,42.4 858.5,41.9 860.2,42.6C861.9,43.3 862.6,45.5 864.3,46.7C866,47.9 866.6,49.2 870.5,49.8C874.4,50.4 882.8,50 887.4,50.4C892,50.8 895.3,51.3 898.4,52.4C901.5,53.5 904.1,55.2 906.2,57C908.3,58.8 909.1,61.6 910.9,63.3C912.7,65 915,66.5 917.1,67.2C919.2,67.9 921.7,67.9 923.4,67.2C925.1,66.5 926.5,65.1 927.3,63.3C928.1,61.5 928.6,58.4 928,56.3C927.4,54.2 925.2,52.2 923.4,50.8C921.6,49.4 918.4,49 917.1,47.7C915.8,46.4 915.5,44.8 915.6,43C915.7,41.2 917,38.7 917.9,36.8C918.8,34.8 920.1,32.9 921,31.3C921.9,29.7 922.7,28.8 923.4,27.4C924.1,26 924.7,23.5 925,22.7L925.7,21L925.7,14L469,14L469,21C464.3,21.8 449.2,24.6 441,25.5C432.8,26.4 426.4,26.5 419.6,26.6C412.8,26.7 404.6,26.2 400,26.2C395.4,26.2 393.8,25.8 391.7,26.6C389.6,27.4 388.8,28.9 387.4,31C385.9,33.1 384.1,36.7 383,39.5C381.9,42.3 382.4,45.3 381,48C379.6,50.7 377,54 374.5,55.6C372,57.2 369.6,58.1 366,57.7C362.4,57.3 357.3,54.3 353,53.4C348.7,52.5 343.9,53.5 340,52.4C336.1,51.3 331.9,49.1 329.4,47C326.9,44.9 325.6,41.8 325,39.5C324.4,37.2 325.8,34.1 326,33L331.5,27.7L344.5,21L344.5,14L293,14L293,21Z" fill="#ffdead" stroke="#0000ff" stroke-opacity="0.6" stroke-width="1" shape-rendering="crispEdges"/>
<path d="M266,172C266.2,170.8 268.7,170.7 271,170C273.3,169.3 276.7,168.7 280,168C283.3,167.3 287.5,166.7 291,166C294.5,165.3 299,165.5 301,164C303,162.5 302,158.7 303,157C304,155.3 302.7,154.1 307,153.8C311.3,153.4 322.6,155 328.8,155C334.9,155 340.1,154.2 344,153.5C347.9,152.8 352.2,150.7 352,151C351.8,151.3 345.7,154.2 342.7,155.5C339.7,156.8 336.5,157 334,158.6C331.5,160.2 329.8,162.1 327.7,165C325.6,167.9 323.6,172.4 321.5,176C319.4,179.6 317.1,184 314.8,186.5C312.6,189 310.3,190.6 308,190.8C305.7,191.1 303.4,189.4 301,188C298.6,186.6 296,184.2 293.7,182.3C291.4,180.4 289.3,177.6 287,176.5C284.7,175.4 282.8,175.4 280,175.5C277.2,175.6 272.3,177.6 270,177C267.7,176.4 265.8,173.2 266,172Z" fill="#ffdead" stroke="#0000ff" stroke-opacity="0.6" stroke-width="1" shape-rendering="crispEdges"/>
<path d="M410.3,74C410.3,74.5 410,75.2 409.6,75.7C409.1,76.1 408.4,76.6 407.6,76.9C406.9,77.1 405.9,77.3 405,77.3C404.1,77.3 403.1,77.1 402.4,76.9C401.6,76.6 400.9,76.1 400.4,75.7C400,75.2 399.7,74.5 399.7,74C399.7,73.5 400,72.8 400.4,72.3C400.9,71.9 401.6,71.4 402.4,71.1C403.1,70.9 404.1,70.7 405,70.7C405.9,70.7 406.9,70.9 407.6,71.1C408.4,71.4 409.1,71.9 409.6,72.3C410,72.8 410.3,73.5 410.3,74Z" fill="#ffff00" stroke="#0000ff" stroke-opacity="0.6" stroke-width="1" shape-rendering="crispEdges"/>
<path d="M174,137C173.8,135.3 174.2,132.3 175,131C175.8,129.7 173.7,129.3 179,129C184.3,128.7 197.2,128.5 207,129C216.8,129.5 227.7,130.7 238,132C248.3,133.3 260.3,135.8 269,137C277.7,138.2 285,138.5 290,139C295,139.5 295.7,139.5 299,139.8C302.3,140.1 306.6,140.2 309.6,141C312.6,141.8 314.8,143.5 317,144.3C319.2,145.1 320.5,145.7 323,145.8C325.5,145.9 329.2,145.5 332,145C334.8,144.5 337.5,143.9 339.8,142.8C342.1,141.7 344.6,139.7 345.8,138.3C347.1,136.9 347.3,135.9 347.3,134.5C347.3,133.1 346.2,131.8 346,130C345.8,128.2 345.8,126.3 346,124C346.2,121.7 346.7,118 347.5,116C348.3,114 348.9,113.5 351,112C353.1,110.5 356.4,109.7 360,107C363.6,104.3 369.2,99 372.5,96C375.8,93 377.4,90.8 380,88.8C382.6,86.8 385.4,85 388.2,83.9C390.9,82.8 393.8,81.9 396.5,82.2C399.2,82.5 401.9,84.5 404.7,85.5C407.4,86.5 410.3,86.9 413,88C415.7,89.1 418.6,90.9 421,92C423.4,93.1 425.5,94.6 427.7,94.6C429.9,94.6 432.1,93.1 434.3,92C436.5,90.9 439.1,89 441,88C442.9,87 443.9,87 445.8,86.3C447.7,85.6 450.2,85.3 452.4,83.9C454.6,82.5 457.1,79.3 459,78.1C460.9,76.9 462.4,76.3 464,76.5C465.6,76.7 467.7,77.6 468.9,79C470.1,80.4 471.1,82.8 471.4,84.7C471.7,86.6 471.5,88.8 470.5,90.5C469.5,92.2 467.8,93.1 465.6,94.6C463.4,96.1 459.8,97.8 457.4,99.5C455,101.2 452.1,103.6 451,105C449.9,106.4 450.1,106.7 450.5,108C450.9,109.3 452.4,111.4 453.2,112.7C454.1,114 456.9,115.4 455.7,116C454.5,116.6 449.1,116.2 445.8,116.3C442.5,116.4 439,116.4 436,116.8C433,117.2 430.4,117.9 427.7,118.4C424.9,118.9 421.9,119.3 419.5,120C417.1,120.7 414.6,121.5 413,122.5C411.4,123.5 410.3,124.7 409.6,125.8C408.9,126.9 408.7,127.9 408.8,129C408.9,130.1 410.4,131.3 410.5,132.4C410.6,133.5 410.6,134.6 409.6,135.7C408.6,136.8 406.9,138 404.7,139C402.5,140 399,140.7 396.5,141.5C394,142.3 392.1,143.3 389.9,144C387.7,144.7 386.4,145.2 383.3,145.6C380.2,146 374,146.6 371.5,146.6C369,146.6 370.8,145.3 368.5,145.8C366.2,146.3 362.3,148.1 358,149.6C353.7,151.1 347.9,153.8 342.8,155C337.8,156.2 332.7,156.9 327.7,157C322.7,157.1 316.6,155.9 312.6,155.6C308.6,155.3 305.4,153.5 303.6,155C301.8,156.5 303,162.9 302,164.7C301,166.5 299.5,166 297.5,166C295.5,166 292.9,164.4 290,164.7C287.1,165 283.2,167.1 280,168C276.8,168.9 272.7,168.5 271,170C269.3,171.5 270.5,175.1 269.6,176.9C268.7,178.7 266.7,179.7 265.4,181C264.1,182.3 264.5,184.3 262,184.8C259.5,185.3 254.5,183.9 250.3,184C246.1,184.1 242.1,185 237,185.4C231.9,185.8 224.2,186.7 220,186.5C215.8,186.3 214.4,186.2 211.6,184.4C208.8,182.6 205.8,179 203,175.8C200.2,172.6 197.9,169.3 194.5,165C191.1,160.7 185.7,154 182.6,150C179.5,146 177.4,143.2 176,141C174.6,138.8 174.2,138.7 174,137Z" fill="#ffffff" stroke="#0000ff" stroke-opacity="0.6" stroke-width="1" shape-rendering="crispEdges"/>
<path d="M925,21L937,21L926.5,27L925,21Z" fill="#ffffff" stroke="#0000ff" stroke-opacity="0.6" stroke-width="1" shape-rendering="crispEdges"/>
<path d="M170,360C170.8,358.3 175,355.8 180,355C185,354.2 194.2,354.6 200,355C205.8,355.4 211.9,355.8 215,357.5C218.1,359.2 217.1,362.5 218.8,365C220.4,367.5 221.5,370.4 225,372.5C228.5,374.6 235.4,375.8 240,377.5C244.6,379.2 250.2,381.5 252.5,383C254.8,384.5 254.8,385.6 254,386.5C253.2,387.4 251.2,388.2 248,388.5C244.8,388.8 238.8,389.5 235,388.5C231.2,387.5 228.8,384.3 225,382.5C221.2,380.7 217.5,379.2 212.5,377.5C207.5,375.8 199.6,374 195,372.5C190.4,371 188.3,370 185,368.8C181.7,367.5 177.5,366.5 175,365C172.5,363.5 169.2,361.7 170,360Z" fill="#ff4500" stroke="#0000ff" stroke-opacity="0.6" stroke-width="1" shape-rendering="crispEdges"/>
<path d="M642.2,435.7C642.7,434 645.2,430.1 646.3,427.4C647.4,424.6 646.7,421 649,419.2C651.3,417.4 655.4,417.6 660,416.5C664.6,415.4 672.1,413 676.5,412.3C680.9,411.6 684.1,411.2 686.1,412.3C688.1,413.4 689.5,416.7 688.8,419.2C688.1,421.7 685.4,425.1 682,427.4C678.6,429.7 673.3,431.2 668.3,432.9C663.3,434.6 655.9,437 651.8,437.8C647.7,438.6 645.2,438.2 643.6,437.8C642,437.4 641.8,437.4 642.2,435.7Z" fill="#ff4500" stroke="#0000ff" stroke-opacity="0.6" stroke-width="1" shape-rendering="crispEdges"/>
<path d="M870.2,643.2C870.7,640.9 873.3,636.6 875.6,633.6C877.9,630.6 880.7,628.4 883.9,625.4C887.1,622.4 889.8,618.5 894.8,615.8C899.8,613 907.1,611.4 914,608.9C920.9,606.4 929.6,603.9 936,600.7C942.4,597.5 947.4,592.9 952.4,589.7C957.4,586.5 962.1,583.5 966.2,581.5C970.3,579.5 974.6,577.4 977.1,577.4C979.6,577.4 981.2,579.5 981.2,581.5C981.2,583.5 980.1,586.5 977.1,589.7C974.1,592.9 967.5,597.1 963.4,600.7C959.3,604.4 955.1,608 952.4,611.6C949.7,615.2 949,618.9 947,622.6C945,626.3 942.9,629.9 940.1,633.6C937.4,637.3 933.9,641 930.5,644.6C927.1,648.2 922.7,653 919.5,655.5C916.3,658 914.5,659.4 911.3,659.6C908.1,659.8 904.4,658 900.3,656.9C896.2,655.8 891.2,654.4 886.6,652.8C882,651.2 875.6,648.9 872.9,647.3C870.2,645.7 869.8,645.5 870.2,643.2Z" fill="#ff4500" stroke="#0000ff" stroke-opacity="0.6" stroke-width="1" shape-rendering="crispEdges"/>
<path d="M7.8,39.6 8.9,40.7 9,42.5 8.8,44.5 9.4,46.3 9.7,48.5 10.2,50.6 11.4,51.6 13.4,52.4 15.2,54.1 17.7,54.7 18.8,53.1 20.3,52 21.4,52.2 22.8,52.1 23.9,53.9 24.7,55.9 26.8,56.2 28.6,56.5 30.4,57.3 31.1,60 29.1,61.4 28.7,61.6 27.5,63.5 25.5,64.2 23.5,64.6 21.5,64.9 19.3,63.6 17.1,63.3 16,65.8 14.9,67.5 12.9,67.8 11,68.8 11,71.7 13.4,73.2 15.3,72.8 17.3,72.2 19.3,71.7 21,71.1 22.8,70.2 25.5,70.2 26.8,70.3 28.3,69.8 30,69.1 31.8,69.5 33.7,70.9 35.5,71.2 37.3,70.9 39,71.3 40.8,71.8 42.5,70.5 44.1,69.3 45.7,69.9 47.3,69.2 48.9,67.8 50.8,68.7 52.6,70.2 54.4,69.9 56.2,68.5 58.1,68 60,68.2 61.8,68.4 63.3,68.9 64.5,68.4 68.1,69.1 66.9,71.3 65,71.9 62.9,72.7 61.4,73.3 59.5,73.6 57.4,73.8 55.9,74.8 55.3,76.4 53.9,78.3 53.3,79.3 54.2,80.5 56.6,80.6 58.5,80.7 60.9,80.7 62.3,80.2 64.5,82 66.1,79 68.4,78.8 70,79.9 72,79.4 74.3,79.2 76.3,80.3 78.3,81.4 80.1,82.5 81.9,83.7 83.2,85.4 85.2,86.2 87.9,86.4 90.1,87.3 92,87.7 93.6,87.5 95.7,87.3 97.4,85.9 99.7,84.5 102.2,85.6 103.5,86.4 105.9,86.6 107.7,89.6 106.8,91.7 107.2,94.1 107.8,95.8 108.6,97.5 109.3,99.3 109.3,101 109.1,102.8 109,104.8 110.2,106.7 112.2,107.6 114.1,108.1 116,108.5 118.1,108.4 119.6,108.7 122.6,109.5 124.3,109.4 126.2,109.6 128,110.4 129.8,110.7 131.3,112 132.2,114.2 133.9,114.9 135.7,114.7 137.4,115.2 139.2,115.3 141.1,115.4 142.7,115.3 144,113.9 145.2,112.4 147.2,112.6 149,112.7 150.6,112.2 152.2,111.8 153.9,111.6 155.5,111.4 156.8,110.4 158.4,109.3 159.8,108.2 161.7,108.3 163.4,109.7 164.9,109.5 166.6,108.5 168.2,108.2 170.2,107.9 172.2,108.5 173.1,110.2 174.1,110.5 174.7,108.8 175.9,107.7 178.5,107.2 179.2,105.3 178.4,103.2 178.3,101.7 179.6,100.4 180.9,99.1 181.1,97.4 181.5,95.4 182,93.9 182.4,92.5 181.9,91.1 181.4,89.5 181.9,87.6 182.7,85.7 182.7,83.6 182.7,81.5 184.1,79.8 186.1,78.5 187.9,77.4 189.9,77.9 191.7,79.6 193.5,79.9 195.4,80.4 197.6,81 199.2,80.2 200.9,79.3 202.6,79.5 204.5,80.4 207,79.9 208.5,79.4 210.1,79.9 211.8,79.9 213.6,80.4 215.2,82 216.9,82.8 218.9,82.6 220.7,82.9 222.5,83.5 224.2,83.4 225.7,84 227.1,85.1 228.9,85 230.5,85.5 231.8,86.9 233.5,87.2 235.2,87.5 236.7,88.5 238.2,89.2 239.8,89.9 241.1,91.3 242.4,92.7 244.2,93.1 246.3,92.9 247.8,93.9 249.6,94.4 251.7,94.2 253,95.5 254.2,96.7 255.9,97.5 256.8,99.6 257.9,101.1 259.7,101.7 259.9,104.2 260.6,106.2 263.1,105.6 265.3,105.5 267.2,105.7 269.5,106.1 270.3,108.2 270.5,110.7 271.7,112 272.9,113.2 274.3,114 275.5,114.8 277.6,115.7 279.5,116 281.1,117 283,117.4 285,116.7 286.7,116.7 287.9,118.9 289.2,121.5 291.1,121.9 293,120.7 294.7,119.5 296.4,119 298.2,119.1 300.1,119.4 301.6,118.4 303.2,117.4 304.9,118.4 306.7,118.8 308.3,117.6 310,117.3 311.7,117.6 313.4,117.4 315.1,117.4 316.8,117.2 318.3,116.3 320,116.8 321.9,117.8 323.7,117.1 325.5,116.4 327.2,116.4 328.7,115.6 330.8,114.5 332.6,113.9 334.8,114.2 336.7,114.7 338.2,113.7 339.7,113.1 341.5,113.5 343.6,112.2 344.9,110.9 345.9,109.8 347.5,108.3 349.4,108.3 351.6,109.2 353.8,108.5 355.2,107.4 356.8,107.4 358.6,107.8 360.9,108.5 362.8,107.7 363.7,105.5 364.7,103.6 365.8,101.8 366.8,100.3 368.1,99.3 369.8,98.6 371.5,97.7 372.6,96.2 373.5,94.7 374.6,93.3 375.9,92.1 377.4,91 378.7,89.9 380.2,89.1 381.9,88.1 383.5,86.9 384.9,85.5 385.9,83.4 387.8,83 390,83.6 391.5,82.5 393,81.4 394.8,82 396.3,83.7 397.8,83.8 400,82.6 402,82.9 403.2,84.6 404.5,86.1 406.2,86.5 408,86.7 409.6,87.2 411.4,87.4 413,88.1 414.4,89.3 416.3,89.6 418.3,89.7 419.9,90.4 421.4,91.1 423,92.4 424.7,93.1 426.5,92.8 427.7,93.6 429.6,95.1 431.5,94.9 433.1,93.7 434.4,92.1 436.4,91.6 438.8,91.5 440.2,89.8 440.3,87.3 440.4,85.1 442.4,83.9 444.6,84.8 446.3,85.2 448,84.7 449.6,83.9 451.2,83.4 453.3,82.4 454.9,81.1 456.7,80.1 458.2,78.9 459.4,77.5 461.1,77.9 462.7,79.3 464,79.9 465.9,79.7 468.5,80.1 470.1,81.7 470.1,83.9 470.5,85.8 471.3,87.4 470.8,89.8 469.9,92.1 468.5,93.5 466.3,93.7 464.3,94.4 462.9,95.6 461.2,96.7 459.7,98.1 457.8,98.7 454.8,98.7 453.4,100.3 453.2,102.8 451.8,104.3 450.3,105.7 449.3,107.2 449.3,109.7 451.6,111 454.2,111.6 456.4,113 457.5,114.5 457.6,116.5 457.8,118.3 458.8,120.5 459.3,122.6 458.6,124.4 456.9,125.3 454.4,126.8 453.3,128.4 452.1,130.3 450.8,132.1 449.8,134.4 449.2,136.2 449.5,138.1 449.8,139.8 449.1,141.9 449.1,144.2 449.8,145.6 449.3,147.2 449.4,148.8 450.2,150.4 450.7,152.6 451.8,154.2 453.4,155.6 455.2,156.9 456.7,158.2 457.4,160.8 457.6,163 457.3,164.8 456.4,166.8 456.7,168.5 457.1,170.5 456.1,172.4 455.4,174.3 455.5,176.2 455.2,178.1 455.5,180 456.4,181.9 456,183.9 455.4,186.2 456.1,188.1 457.4,189.6 459,190.5 461.1,192.7 459.7,196 458,196.6 456.8,198.5 455.4,199.9 454.1,200.8 452.9,201.9 451.4,202.6 449.6,203.2 448.6,205 448,207 446,207.5 444.9,208.9 443.9,210.5 442.9,211.9 442.3,213.5 441.9,215.3 441.6,217 441.5,218.7 441.6,220.5 441.7,222.2 441.6,223.7 441,225.3 440.3,226.8 439.4,228 438,228.9 436.4,229.6 435.1,230.4 434.4,232.3 433.9,234.6 433.2,236.4 432.2,238.2 431.1,240.1 430.4,241.6 429.6,243.1 428.7,244.6 427.9,245.9 426.9,248 426.1,250.1 425.5,251.4 424.6,252.8 423.9,254.3 423.5,256 423,257.7 422.3,259.4 421.7,261 421.1,262.5 420.1,264.2 419.1,265.5 418,267 416.9,268.8 415.8,270.7 414.8,272.5 414.1,274.4 413.5,276.3 412.9,278 412.6,280.2 412.2,282.5 411.3,283.8 409.8,284.8 408.2,286 407.3,287.5 406.8,289.2 406.5,290.9 406.1,292.9 405.8,295 405.5,296.5 405.4,298.1 405,299.7 404.6,301.4 404,303.2 403.5,305 403.1,306.5 402.5,308.2 401.9,309.9 401.6,311.7 401.1,313.5 400.6,315 400.2,316.4 399.8,317.5 398,320 397.5,321 397.1,322.4 396.5,323.8 395.9,325.5 395.5,327.3 394.9,329.1 394.2,330.8 393.4,332.4 392.6,333.9 391.8,335.4 390.8,336.8 389.8,338.2 388.9,339.6 388.1,341.1 387,342.5 386,343.8 385,345.1 383.9,346.3 382.8,347.7 381.7,349.2 380.6,350.7 379.4,352 378.3,353.4 377.2,354.6 376.1,355.8 375.2,357 373.7,358.5 372.4,359.8 371,360.8 369.7,361.9 368.1,363 366.7,363.7 365.3,364.4 363.8,365.2 362.1,365.6 360.5,366.2 359,366.9 357.6,367.6 355.7,368.3 353.9,369 352.2,369.8 350.6,370.5 348.8,371 347,371.5 345.2,372.1 343.3,372.6 341.6,372.9 340,373 337.8,372.6 335.9,372.1 334,371.4 332.4,370.8 330.7,370.3 328.6,369.4 327.1,368.8 325.4,368.1 323.3,367.8 321.2,367.9 319.5,367.2 317.9,366.3 315.8,366.2 314.2,366.9 312.5,367.8 310.5,368.4 309,368.6 307.5,369 306,370 304.5,370.8 302.8,371.2 301.3,372 299.9,372.9 297.9,373.5 296.2,374.7 294.7,376.2 292.9,376.6 291.3,376.9 289.2,377.5 287.2,377.1 285.6,375.9 284.3,374.8 282.7,374.1 281.3,372.9 280.3,371.4 278.9,370.3 277.3,369.6 275.8,368.8 274.8,367.3 273.3,365.8 271.3,365.1 269.3,364.9 267.4,364.2 265.7,363 263.9,362 262.3,361.3 260.9,360.3 259.8,358.8 258.5,357.6 256.9,356.7 255.2,355.7 253.9,354.4 252.9,353.2 250.9,352.2 248.9,352.2 247.6,352.7 245.9,353.1 243.8,353 241.8,353.1 240.2,353.5 238.3,353.4 236.6,353.8 235.1,354.5 233.8,355.1 231.8,355.4 230,355.1 228.2,354.1 226.7,353 225.1,352 223.3,350.9 221.6,350 219.7,349.8 217.9,349.9 216.4,349 214.7,348.3 213.2,348.3 211.6,348.7 209.9,348.7 208.1,348.4 206.4,348.2 204.8,348.1 203.2,348.5 201.7,349.2 200.1,349.6 198.3,350.1 197,351.1 195.5,351.9 193.9,352.3 192.2,352.7 190.6,353.3 188.9,353.7 187.4,354.1 185.3,354.7 183.2,354.5 181.2,354.1 179.4,354.5 177.8,354.7 175.5,354.5 173.7,354.2 172.5,354.1 171.4,355.5 170.7,357.9 170.4,359.5 169.8,361.2 169.2,362.8 168.5,364.3 165.6,365.6 163.8,365.7 161.8,365.5 160.2,365.4 158.9,364.7 157.5,363.2 156.2,362.7 155.2,363.2 154.1,364.6 152.9,366.3 151,367 149.3,367.6 147.8,368.6 146.1,369.4 144.7,370.8 143.7,372.5 142.3,373.8 140.4,374.4 138.5,374.9 136.7,375.5 135.1,376.2 133.7,376.9 132.7,378.2 131.7,379.7 130.3,380.6 128.4,380.6 126.5,380.8 125,381.8 123.6,382.9 122.1,383.7 120.2,384.2 118.5,384.6 116.7,385 114.9,385.9 113.5,387 111.8,387.7 109.9,387.6 108.1,387.9 106.4,387.9 105,387.8 103,387.5 101.4,386.7 99.9,385.7 98.4,384.8 96.9,383.8 95,382.5 93.9,381.4 92.3,380.8 90.6,380.5 88.8,379.7 87,379.1 85.1,378.6 83.6,378 82.1,377.4 80.4,376.9 78.7,376.5 77,376.2 75.3,375.9 73.8,375.4 72.4,375 70.7,374.9 69,374.3 67.3,373.9 65.7,374.4 64.2,374.8 62.5,375.3 60.7,375.1 58.8,374.4 57,374.5 55.2,374.6 53.5,375.3 52,375.7 49.6,375.3 47.6,374.9 46,374 45.5,372.3 45.3,370.2 44.8,368.2 43.7,367 42.4,367 40.7,367.4 38.8,368.1 36.9,368.7 35,368.7 33.3,368.5 31.7,368.4 30.1,368.6 28.5,368.4 27.1,367.6 25.2,367.3 23.2,367.6 21.5,367 20.2,365.8 18.8,364.5 17.7,362.8 16.7,360.9 15.2,359.7 13.5,359 11.7,358.6 9.9,358.7 8,358.9 6.3,359.2 4.3,359.2 2.6,358.2 1.2,357.1 0,357.5" fill="none" stroke="#000" stroke-width="1.1" stroke-linejoin="round"/>
<path d="M284.4,430.5 282.5,430.3 281.8,432.4 281.3,434.8 280.7,436 279.7,437.4 279.4,439.2 278.7,440.9 277.3,442.1 275.8,443.8 275,445.9 274.8,447.9 274.6,449.4 275.4,450.5 276.7,451.3 277.7,452.9 278.3,454.9 279.3,456.6 281.3,457.3 282.9,458.6 283.3,460.3 284,461.9 284.9,463.5 285.9,465 286.3,466.5 286.2,468 286.9,469.4 288.2,471.1 289,472.3 288.8,473.9 288.7,475.6 288.8,477.4 289,479.2 289.3,480.9 290,482.5 290.5,483.9 291.4,485.8 292.8,487.1 293.8,488.5 293.9,490.4 294.1,492.5 295.1,493.7 296,495 297,496.3 298.7,497.2 299.8,498.5 300.1,500.3 300.8,501.8 302.2,503 303.8,504 304.6,505.6 304.7,507.9 306.1,509.2 308.6,509.5 310.1,510.5 310.5,512.6 311.2,514.4 312.5,515.8 314,516.8 315.4,517.9 315.9,519.6 317,521.2 318.9,521.5 320.6,521.9 321.3,523.3 322.2,524.8 323.7,525.4 324.9,526.4 325.9,527.7 326.9,529 327.9,530.5 328.6,532.3 329,534 330,535.4 331.3,536.8 332.9,537.9 334.2,539.3 335.4,540.5 336.9,541.9 336.2,544.4 335.1,546.3 334.8,548.2 334.3,549.8 335.4,551.1 336.7,552.1 337.1,553.8 337.7,555.5 338.6,557.3 339.1,559.4 339.8,561.5 341.3,562.8 343,564.2 344.9,565.2 346.5,566.6 347,568.3 347.9,569.8 348.9,571.2 350,572.3 351.1,574 351.2,576.4 350.9,578.5 352.3,579.9 354.3,581.1 355.7,582.6 356.7,584.2 357.4,586 357.8,588 358.2,590.1 358.6,591.6 358.3,593.3 357.7,595 356.7,596.6 355.4,598 354.9,599.5 354.5,601.1 354.6,603.2 356.1,604.5 358,605.2 359.4,606.3 360.8,607.4 360.9,609.3 360.9,611.2 362.4,611.9 363.9,612.9 364.8,614.7 365.5,615.9 366.6,617 367.3,618.4 367.5,620.3 368.3,621.9 369.8,623.1 370.7,624.6 371.3,626.5 372,627.8 373.1,629 374.3,630.1 375.8,631 377.3,632 377.8,633.7 377.8,635.8 378.6,637.2 380.2,638.1 381.5,639.2 381.8,641.1 382,643.1 383.3,644.3 385.3,645 386.8,646 388.3,647.1 389.1,648.6 389.3,650.5 389.7,652.2 390.2,654.1 390.9,655.8 391.9,657.3 393.3,658.6 395.3,659.4 396.6,660.6 396.2,662.9 396,664.9 397.9,665.9 399.9,666.9 399.9,668.8 400.2,670.6 401.5,671.9 402.3,673.4 402.8,675.1 403,677 403.8,678.6 404.5,680.2 405.2,681.8 407,682.8 407.9,684.2 408,686.1 408.5,687.6 408.6,689.2 409.8,690.5 411.2,691.7 411.3,693.4 411.3,695.2 411.9,697 412.2,698.7 413.2,700.3 414.9,701.9 415.4,703.9 414.7,706.2 415.1,708.1 416.8,709.4 417.6,710.6 416.8,712" fill="none" stroke="#000" stroke-width="1.1" stroke-linejoin="round"/>
<path d="M284.4,430.5 284.6,432.1 285.9,433.9 286.6,436.2 287.6,437.3 289.1,438.1 290.1,439.4 291,441 291.9,442.8 292.2,444.3 292.1,446 292.3,447.6 292.5,449.4 292.4,451.1 293.7,452.6 294.6,454 293.7,455.8 294.1,457.6 295.4,459 295.9,460.7 296.7,462.3 298.1,463.5 299.4,464.7 300.6,466.1 301.5,467.7 302.2,469.4 303.7,470.6 305,471.9 306,473.6 307.3,474.8 308.9,475.9 311.2,476 313.6,476 314.8,477.8 315.6,479.8 316.2,481.3 316.4,482.9 317.1,484.4 317.7,486.2 317.6,487.9 317.2,489.5 317.8,491.1 317.5,492.7 316.1,494.9 316.7,496.6 318.2,498.1 319.5,499.5 321,500.7 321.6,502.3 322.1,503.6 323.5,504.8 324.6,506 325.8,507 327.1,508.1 328.2,509.8 328.7,511.8 330.2,512.9 332.7,512.7 334.8,513 336,514.6 337,516.2 338.3,517.4 339.1,519.2 339.9,520.7 341.5,521.5 342.9,522.6 343.9,524.1 345.2,525.4 346.5,526.8 347.6,528.4 348.7,529.9 350.6,530.7 352.3,531.4 353.5,532.9 354.9,534 356.2,535 357,536.6 358.3,537.7 360.2,538.2 361.3,539.7 362.1,541.4 363.2,542.6 364.5,543.4 366.4,543.9 367.9,544.7 369.5,544.6 370.5,543.8 371.4,542.5 372.3,541 373.7,539.6 375.8,539.5 378.1,539.5 379.9,537.7 380.6,534.9 380.2,533.4 379.9,532 380.8,530.3 381,528.5 379.9,526.7 380.1,524.8 380.6,522.9 380.3,521.1 380.5,519.5 381.4,518.1 381.9,517.2 382.1,515.2 382.3,513.9 382.7,512.7 383.4,511.4 384.7,510 386,508.6 387.2,506.7 388.5,505.5 389.3,503.8 389.1,501.8 389.4,499.8 390,497.9 390.4,496.1 391,494.5 390.8,492.8 390.2,491 390.7,489.6 392.3,488.2 393.3,486.5 393.6,485 393.6,483.3 393,481.5 393.2,479.7 394.1,478.1 394.5,476.3 394.6,474.6 394.3,472.9 394.5,471 395.3,469.3 395.3,467.4 395.8,465.6 396.9,464.1 397.6,462.7 397.7,461.2 398.2,459 399.4,457.1 401,455.8 402.5,455 403.8,454.6" fill="none" stroke="#000" stroke-width="1.1" stroke-linejoin="round"/>
<path d="M407.6,454.6 406.8,455.6 406.8,457.2 406.2,459 405.9,461.1 405.1,463 403.8,464.7 404,466.4 404,468 403.1,469.5 402.6,471 402.7,472.7 402.8,474.5 403,476.3 402.9,477.9 402.7,479.5 403,481.2 403.1,482.9 402.5,484.4 401.3,485.9 400.6,487.5 400.2,489 400.2,490.7 400.2,492.3 399.5,493.9 398.5,495.3 398.2,496.9 398.6,498.6 398.9,500.4 398.9,502.1 398.4,503.8 398.1,505.7 396.7,507.1 395.3,508.4 395,510.1 393.7,511.4 392.7,512.9 392.4,514.7 391.5,516.4 390.5,518.1 390,519.9 390.3,521.8 390.6,523.3 390.7,524.3 390.9,525.8 392.5,526.4 393.7,527 395.3,527 397.1,525.9 399,525.4 400.9,525.3 402.6,526 404.6,526.9 406.5,526.4 408.3,526.6 410,528.1 412,528.5 414.2,528 416.2,528.6 417.9,529.4 419.4,530.5 419.9,532.4 420.4,534.2 421.5,535.7 422.3,537.4 422.5,539.7 423.8,541.1 425.8,541.9 426.1,543.8 427,545.3 428.7,545.9 430.1,546.9 431.1,548.5 432.2,550.4 433.8,551.4 435.6,552.3 436.7,553.6 437.6,555 438.5,556.3 439,558 439.4,559.5 442.1,559.9 444.1,560.7 443.5,563 443.2,565 444.1,566.6 445.2,568 446.1,569.4 446.6,571.2 447.4,573 449,574.6 449.6,576.5 449.9,578.7 451.8,579.2 453.3,579.2 454.2,581.1 455.2,581.6 457.3,581.8 458.6,582.9 459.3,584.5 460.6,585.8 462.1,586.8 463.1,588.2 463.3,590.1 463.6,591.8 465.2,592.6 466.5,593.6 466.8,595.5 467.3,597.1 468,598.9 469,600.2 470.6,601.2 471.9,602.4 473.2,603.7 474.3,605.1 474.5,607.2 475,609.1 476.6,610.3 478.1,611.3 479.3,612.7 480.6,614.1 481.6,615.6 482.5,617.2 483.4,618.7 484.5,620 485.3,621.2 485.4,622.7 486.8,624.6 488.8,624.9 490,625.5 490.3,627.7 490.9,629.4 492.8,629.9 494.5,630.7 495.5,632.3 496.2,633.8 496.6,635.3 496.6,637 496.4,638.7 496.1,640.4 495.9,641.9 495.7,643.7 494.7,645.5 493.1,646.6 491.2,647 489.7,647.7 488.5,649.8 488,651.6 487.6,653.2 488.8,654.4 490.9,654.3 493.1,654.1 495,654.9 496.6,655.9 498.3,656 500.2,655.9 501.7,656.8 503.1,657.9 504,659.7 504.2,662 505.4,663.4 507,663.7 508.9,663.8 510.9,662.9 512.6,662.2 513.6,663.3 514.5,664.6 515.9,666 516.1,667.9 516.2,670 517.6,671.4 519.1,672.9 519.8,674.6 520.1,676.3 519.9,677.9 519.9,679.5 520.9,681 522.2,682.6 522.6,684.5 522.9,686.6 523.5,688.5 523.3,690.2 523,691.9 522.5,693.6 521.7,695.4 522,697.2 523.8,698.9 526.6,698.8 528.3,699.8 527.9,702.3 528.4,703.8 530,705 531.6,705.9 533.3,707.1 534.4,708.8 535,710.5 535,712" fill="none" stroke="#000" stroke-width="1.1" stroke-linejoin="round"/>
<path d="M455.4,128 457.4,127.8 459.8,127.5 461.2,128.5 462.6,129.8 464.4,130.9 466.7,131.8 468.5,131.4 468.9,129.8 469,127.8 470.2,125.4 471.8,125.2 473.7,125.2 475.6,124.9 477.6,124.8 479.7,124.1 479.9,121.4 478.8,119.1 479,117.1 479.4,114.5 480.5,112.6 482.3,112.6 484.1,111.5 485.9,110.5 488.4,110.7 490.3,110.2 491.2,108.3 491.7,107.5 490.5,106.5 489.9,104.1 489.2,101.8 489,100.2 489.1,98.4 488.4,97 488.2,95.1 489.3,93.4 490.3,91.5 490.8,89.7 491.3,87.7 490.9,85.5 491.2,83.3 492.4,81.7 493.5,80.3 495.4,80.1 497.2,81.3 499.2,82.3 501.5,82.7 503.2,83.1 505.1,84 507.1,84.2 508.9,84.5 510.1,85 511.9,86.5 512.4,88.5 512.8,90.5 514.6,91.3 516,90.9 517.9,90.5 519.9,89.6 522.2,88.8 524,89.2 525.8,90 527.7,90.3 529.6,90.7 531.6,90.7 533.3,90.3 535.2,90.3 537,90 538.5,89 540,88 542,87.9 543.7,88 545.3,87.3 546.9,86.8 548.4,86.1 549.9,85.3 551.3,84.2 552.3,82.6 553.6,81.2 555.2,80.7 557.2,81.2 559.1,81.7 560.7,81.3 561.9,79.7 563.5,78.6 565.5,78.6 567.2,77.5 568.9,76.6 570.8,77 572.4,77.2 574.5,76.9 576.5,76.6 578.3,77.1 579.9,78.4 581.8,78.9 583.8,79.2 585.5,80.1 587.3,80.6 589.5,81 591.5,81.6 593.1,82.8 594.3,84.6 595.8,86.1 598.1,86.9 599.5,87.2 601,87.9 602.6,88.3 604.4,88.3 606.2,88.1 608,88.5 609.5,89.2 611.2,89.3 612.9,90 614.5,91.2 616.3,90.7 618,89.8 619.6,89 621.4,88.7 623.2,89.1 624.9,88.9 626.6,88.7 628.3,89.1 630.1,88.9 631.9,88.2 633.7,88.3 635.7,88.8 637.5,87.8 639.2,86.8 641.1,86.9 643,86.7 644.8,86.3 646.7,86.1 648.6,86.1 650.5,86.1 652.1,85.2 653.9,84.7 655.7,84.4 657.4,83.9 659.2,83.7 661,83.5 662.7,82.9 664.2,82 665.7,81 667.1,80 668.8,79.6 670.5,79.6 672.3,79.8 674.3,79.9 675.6,78.7 676.4,76.5 678,75.7 680.3,75.7 681.4,74.7 682.4,73.4 683.8,72.6 685.1,71.5 686.5,70.4 688.1,69.7 690.2,70 692.1,70.5 693.6,69.5 695.2,69 697,69 698.5,67.8 700.1,66.8 701.9,66.7 703.7,66.6 705.4,66.8 707.1,67 708.7,66.8 710.4,66.7 712.1,66.6 713.8,66.1 715.5,66.2 717.3,66.2 719.1,66 720.7,66.8 722.4,67.7 724.1,67.8 725.9,68 727.7,68.1 729.5,68.3 731.3,68.1 733,67.8 734.7,68.1 736.5,68.1 738.3,67.9 740,67.6 741.6,67 743.3,67.1 745.1,67.2 746.6,66.1 748.3,65.5 750.1,66 751.9,66.1 753.7,65.5 755.3,64.8 757.1,64.8 758.9,65 760.5,64.5 762.1,64.7 764,64.6 765.7,63.6 767.4,63.1 769.2,63.4 770.7,62.8 771.8,61.5 773,60.1 774,58.5 775.4,57.3 776.6,56.2 777.7,55.2 779.7,56.2 781.2,58.3 783.5,58.8 785.2,59.7 785,61.5 784.7,64 786,65.8 787.8,64.9 789.5,64.3 791.6,64.8 793.3,64.6 795.4,64.1 797.2,63.4 798.2,61.9 799.7,60.4 801.4,58.8 802,57.3 803.4,56.1 805.2,55.4 806.3,54.5 807.2,53.5 808.4,52.7 810.2,52.5 812.1,52.5 814,52.6 815.5,53.5 816.7,54.4 818.8,54.2 820.5,53.9 822.6,53.8 824.1,53.3 825.7,53.6 827.4,54.2 829.1,54.7 830.6,55.8 832.1,56.4 833.9,56.5 835.2,57.6 836.6,58.5 838.5,58.3 840.4,57.9 841.9,57.8 843.3,58.8 844.9,59.5 846.6,58.8 848.3,58.8 849.9,59.8 851.4,60.7 853.2,60.3 855.1,59.4 856.7,59.9 858.2,60.6 859.7,60.4 861.5,59.5 863.3,58.7 865.2,58.1 867.1,57.7 868.9,57.2 870.6,56.3 872.3,55.7 874.1,55.8 876.1,55.8 878.3,56.2 880,57.3 881.4,58.4 883,60.2 883,62.5 880.7,63.6 878.8,65.5 879.5,67.9 880.9,70.1 882,71.9 883.8,73.1 885.9,73.3 887.6,72.6 888.8,70.9 890.3,68.9 891.3,67.9 892.8,67.2 894.3,66.2 895.4,64.8 896.7,63.5 898.2,62.4 900.2,62.4 902.2,62.4 904,62.2 905.6,63.5 906.8,64 909.2,64" fill="none" stroke="#000" stroke-width="1.1" stroke-linejoin="round"/>
<path d="M881.7,19 882.4,21.9 881.5,24 881.9,25.4 883,25.5 885.1,26.2 887,27.6 888.3,29.1 889.8,30 891.5,30.7 893.2,31.3 894.9,31.9 896.5,32.6 898.6,33.6 900.4,35 899.7,36.9 898.4,38.8 899.1,41.1 899.5,43.4 898.7,45.8 899.4,48.2 900.9,49.2 902.1,50.3 903.6,51.4 905.2,52.5 906.4,54.2 907.4,55.9 909.5,57.2 910.8,58.8 909.9,60 908.9,61.6 909,63.3 909.2,64.5" fill="none" stroke="#000" stroke-width="1.1" stroke-linejoin="round"/>
<path d="M909.2,64.5 910.9,65.2 911.6,67.1 911.4,69.4 912.2,71.1 914.2,71.4 916,72.3 916.2,74.5 915.7,76.7 914.8,78.5 913,80.2 911.7,82.3 914,83.3 916.7,82.8 918.3,83 919.8,84.3 920.5,85.9 920.7,87.8 921.8,90 922.6,91.8 923,93.8 924.1,95.7 924.8,96.7 925.7,98.2 926.6,99.9 927.9,101.1 929.8,101.3 931.4,101.8 932.4,103.7 933.6,105.3 935.2,106.4 935.9,108 935.8,110.2 936.2,112.2 936.7,114.4 937.6,115.6 938.9,116.5 939.5,118.3 940.9,119.6 943.4,119.8 945.1,120 946.4,121.3 947.9,122.4 949.8,123.1 951,124.9 952.5,126.1 954.3,126.4 955.7,127.2 957.5,128.7 958.5,130.3 959.6,131.5 961.3,132.3 962.7,133.4 964.4,134 966.3,133.7 968.2,133.7 970.3,133.6 971.9,133.8 973.7,134.8 975.6,135.2 977.5,134.3 979.3,133.6 981,133.6 982.4,133.2 985.3,133.4 987.5,134.1 988.4,133.7 988.3,134.9 986.5,135.5 984,134.9 981.6,133.7 980.3,133.8 978.6,135.5 976.6,136.8 974.8,137.8 973.5,138.5 971.9,139.3 970.4,140.6 969.5,142.3 970.1,144.3 971.2,146.5 971.8,148.1 971.7,149.7 971.3,151.5 972.5,152.7 974.7,153 976.3,154.2 976.8,156.1 977.4,158.3 977.8,160.4 978.1,162.4 979,164.6 978.8,167.1 976.7,168.7 974.9,169 972.9,169.2 970.6,169.2 968.6,170 967.2,171.3 966.6,172.9 966.4,174.5 965.3,175.9 963.8,177.1 962.5,178.3 961.5,179.8 961.1,182 959.8,183.5 958.7,185.1 958.7,187.2 958.6,189.3 957.8,191.1 956.6,192.3 955.5,193.3 954.2,194.8 952.8,196.1 951.3,196.2 949.4,195.8 948.1,196.7 947.2,198.2 946.1,199.5 944.8,200.6 943.3,201.6 943.3,203 944.7,204 945.1,205.5 945.9,207.4 947.1,208.9 947.2,210.7 946.6,212.3 946.5,214 946,215.7 946.2,217.7 946.3,219.6 944.9,220.9 944.1,222.4 943.7,224.2 942.1,225.5 941.7,227.4 943.6,228.4 944.9,229.3 945.9,230.5 947.6,231.1 948.8,232.5 949.3,234.6 949.7,236.3 950.6,237.6 951.6,239 952.9,240.2 954.8,240.8 956.3,241.7 957.4,242.7 958.3,243.8 960,245.4 962.2,244.9 964.2,243.7 966,244.1 967.8,244.6 968.8,246.1 967.9,248.2 967.5,250 968.3,251.8 969.1,253.6 970.7,254.8 972.6,255.1 974.1,256 975.6,257 977.4,258.2 977.8,260 976.7,262.4 976.3,264.5 977.7,266.2 979.1,267.9 979.7,269.6 980,271.2 977.9,272.9 975.2,273.2 974.8,275.8 976.4,277.7 979,279 980.4,279.2 981.9,279.5 983.6,280.1 985.4,280.4 987.3,280.9 989.1,281.7 991,282.1 992.8,282.5 994.2,283.5 995.6,284.8 997.3,285.1 999.4,284.6 1000.9,285.1 1002,286.6 1003.4,287.4 1005,288.1 1006.2,289.5 1007.2,290.8 1008.7,291.7 1010.2,292.6 1012.1,293.1 1013.7,294 1014.8,295.4 1016.3,296.2 1017.9,296.7 1019.1,297.2 1020.8,298.6 1022.4,299.8 1023.7,301.1 1024.7,302.3 1026,302" fill="none" stroke="#000" stroke-width="1.1" stroke-linejoin="round"/>
<path d="M925,21 924.7,22.3 924.7,24.2 925.1,26.1 925.5,27.3 926.5,28.4 928.3,29.4 930,30.1 931.3,30.8 932.5,31.7 933.5,33 934.4,34.3 935,36 934.5,38 934.4,40 935.5,41.5 937,42.8 937.9,44.4 937.9,46.3 937.7,48.1 937.4,50 937,51.9 937,53.6 937.4,55.2 938.1,56.9 939.4,58.4 940.8,59.9 941.3,61.7 942.3,63.4 943.9,64.6 945.6,64.9 947.5,64.7 949.5,64.5 951.4,63.9 952.7,62.5 953.1,60.4 953.5,58.5 954.8,57.1 956.7,56.8 958.5,56.5 960,55.7 961.5,55.2 963.1,54.5 964.7,53.5 966.7,53.4 968,52.8 966.6,52.3 965,51 964.2,49.3 963.1,47.7 962,45.8 960.5,44.5 958.7,43 958,41 958,40.1 958.6,40.2 960.7,40.1 962.4,39.1 962,37.1 960.5,35.5 959.3,34.5 957.5,33.7 955.4,33.4 953.7,33.2 951.7,33.2 949.7,33 947.9,32.9 945.3,32.9 943.4,31.1 943.6,28.2 944.1,25.9 943.8,24 943.2,21.6 946.1,20" fill="none" stroke="#000" stroke-width="1.1" stroke-linejoin="round"/>
<path d="M786.4,65.4C786.6,65.9 788.8,66.7 787.4,68.3C786,69.9 781,72.8 777.7,75.2C774.5,77.7 770.9,80.2 767.9,83C764.9,85.8 763.2,90 760,91.8C756.8,93.6 752.1,92.9 748.4,93.7C744.7,94.5 740.4,95.1 737.6,96.6C734.8,98.1 733.1,100.2 731.8,102.5C730.5,104.8 730.3,107.4 729.8,110.3C729.3,113.2 728.3,116.8 728.8,120.1C729.3,123.3 731.6,126.6 732.7,129.8C733.9,133.1 735.7,136.3 735.7,139.6C735.7,142.9 733.9,146.5 732.7,149.4C731.6,152.3 729.8,154.3 728.8,157.2C727.8,160.1 727.2,163.2 726.9,167C726.6,170.8 726.8,177.1 726.9,180C727,182.9 727.2,183.9 727.3,184.7" fill="none" stroke="#000" stroke-width="1.1" stroke-linejoin="round"/>
<path d="M452.9,255.2C453.1,256.1 453.8,258.9 454.3,260.7C454.8,262.5 455.9,264.3 455.7,266.2C455.5,268.1 454.1,270.2 453,272C451.9,273.8 450.7,275.5 449,277C447.3,278.5 444,280.3 443,281" fill="none" stroke="#000" stroke-width="1.1" stroke-linejoin="round"/>
<path d="M437.8,291.5C437.8,292.9 437.6,296.4 437.5,300C437.4,303.6 437.3,308.6 437.1,312.8C436.9,317 436.4,321.6 436.5,325C436.6,328.4 437.3,330.5 437.6,333C437.9,335.5 438.3,339 438.4,340.2" fill="none" stroke="#000" stroke-width="1.1" stroke-linejoin="round"/>
<path d="M436,363C435.7,363.8 434.8,366.1 434,368C433.2,369.9 432.6,372 431.4,374.5C430.2,377 428.2,380.4 427,383C425.8,385.6 425.2,387.7 424,390C422.8,392.3 421.1,394.6 420,397C418.9,399.4 418,401.4 417.3,404.4C416.6,407.4 416.4,411.5 416,415C415.6,418.5 415.7,422.2 415.2,425.4C414.7,428.6 413.5,431.6 413,434C412.5,436.4 412.7,437.7 412,440C411.3,442.3 409.7,445.8 409,448C408.3,450.2 407.8,452.4 407.6,453.3" fill="none" stroke="#000" stroke-width="1.1" stroke-linejoin="round"/>
<path d="M456,186 457.1,187.1 458.2,188.9 459.5,190.8 460.9,192.3 462.6,192.5 464.4,192.4 466.2,192.3 468,191.4 469.6,190.6 471.3,190.6 473,191.3 474.5,192.1 475.8,192.7 477.5,193.5 478.7,194.4 480.2,195.4 481.3,196.1 482.4,197.2 483.6,198.3 484.9,199.6 485.8,201.1 486.8,202.4 487.6,203.8 488.2,205.6 489.3,206.8 490.6,208 490.6,209.6 490.1,211.1 490.3,212.8 490.1,214.6 489.4,216.3 488.8,217.9 488.3,219.3 487.5,221 486.3,222.3 484.9,223.2 483.3,224 481.6,224.5 480.1,225.7 479.2,227.2 477.8,228.5 476.2,229.8 474.7,230.7 472.9,231.2 471.1,231.9 469.6,233.2 468,234.2 466,234.5 464.4,235.6 463,237 461.4,238.2 460.4,239.8 459.6,241.2 458.5,242 458.8,243.8 460.6,245.2 460.7,247 460.2,248.1 459.2,249.4 457.4,250.4 456.1,252 455,253.6 453.5,254.5 451.6,255.4 450.1,256.6 448.6,257.7 446.8,258.2 445.1,258.7 443.7,259.6 442.2,260.4 440.5,261.3 439.3,262.4 438.1,263.9 436.7,265.1 434.8,265.7 433.2,266.4 431.7,267.4 430.1,268.1 428.5,269.1 427,270.2 425.2,270.8 423.3,271.3 421,271.1 418.8,270.5 417,270.8 416,272" fill="none" stroke="#000" stroke-width="1.1" stroke-linejoin="round"/>
<path d="M439.2,292.2C440.6,291.8 444.6,289.5 447.4,289.5C450.1,289.5 453.4,291.1 455.7,292.2C458,293.3 459.6,294.9 461.2,296.3C462.8,297.7 463.5,299.5 465.3,300.4C467.1,301.3 469.6,300.9 472.1,301.8C474.6,302.7 478.1,304.9 480.4,306C482.7,307.1 483.8,308 485.8,308.7C487.9,309.4 490.3,309.6 492.7,310C495.1,310.4 498.8,311 500,311.2" fill="none" stroke="#000" stroke-width="1.1" stroke-linejoin="round"/>
<polyline points="284,420.7 284.4,430.5" fill="none" stroke="#000" stroke-width="1" stroke-linejoin="miter"/>
<polyline points="727.3,184.7 717,202 702,208.25 603.1,258.5 500,311.2" fill="none" stroke="#000" stroke-width="1" stroke-linejoin="miter"/>
<polyline points="603.1,258.5 616.25,303.25 614,304.5 615.75,312 627,310.75 629.5,315.75 622,322 612,328.25 510.7,353.4 560.2,403.9 544.9,413.7 536.6,430.2 498.2,437 490,448 463.5,471.1 407.6,463.5" fill="none" stroke="#000" stroke-width="1" stroke-linejoin="miter"/>
<polyline points="622,322 684.5,331.5 747,362 771.3,373.6 810.6,400.8 861.9,438.5 905.7,470.8 944,474 990.6,478.1 1001.5,475.3 1026,478.3" fill="none" stroke="#000" stroke-width="1" stroke-linejoin="miter"/>
<polyline points="1001.5,475.3 1015.2,458.9 1026,441.5" fill="none" stroke="#000" stroke-width="1" stroke-linejoin="miter"/>
<polyline points="369,363 402.8,456" fill="none" stroke="#000" stroke-width="1" stroke-linejoin="miter"/>
<path d="M36.6,114.9 37.2,113.2 37.7,111.2 38.6,109.4 40.3,108.4 42.1,107.9 43.9,107.2 45.5,106.5 47.2,106 49.1,105.8 50.6,105.6 52,104.9 53.5,104 55,102.9 56.5,102.4 58.5,102 60.1,101.2 61.5,100.5 62.3,100.5 63.4,101.2 64.6,103.1 64.5,105.2 62.6,106.5 61.4,108 61.4,110.2 60.8,111.9 59.6,113.3 58.8,114.8 57.7,116.3 56.2,117.4 54.5,118.4 53.2,119.4 52,120.7 50.6,121.8 48.6,122.3 46.8,123 45.7,124.6 44.8,126.5 43.5,127.8 42,128 40.1,128 38.1,128 36.1,127.2 35.4,125.1 35.3,122.8 35.5,120.6 35.6,118.6 35.2,116.6Z" fill="none" stroke="#000" stroke-width="1.1" stroke-linejoin="round"/>
<path d="M269.8,168.6 272,170.2 273.6,170.4 275.3,169.1 277,167.9 279,167.9 281.1,167.8 283.1,167.5 285,167.3 287.1,167.3 289.2,167.3 291.1,167.3 293,166.7 295,166.3 297.2,166.3 298.8,165.6 300.3,164.6 301.9,164 303.1,163.1 303.8,161.2 303.6,158.9 303.6,157 304.6,154.8 307.1,154 308.4,154.5 310.1,154.3 312.1,153.6 314.1,153.6 316.1,154.2 318,154.2 319.9,154.3 321.7,154.6 323.6,154.6 325.4,155.2 327.1,155.6 328.8,155.1 330.8,154.6 332.6,154.9 334.3,155.3 336.1,155.2 337.6,155 339.2,154.6 340.8,154.3 342.5,154.1 344,153.9 345.9,153.7 347.7,153.6 349.4,153.1 351,152 352.6,150.9 354.4,150.2 356.1,149.3 357.7,148.7 359.6,148.4 361.4,148.5 363.2,148.3 364.8,147 366.4,145.9 368.5,145.7 370.5,145.3 372.4,144.6 374.2,144.1 375.7,143.6 376.9,142.6 378.7,141.8 380.2,141.3 382.1,140.3 384.2,139.7 386.3,139.5 387.8,139.1 388.9,139.4 388,139.8 386.1,141.4 384.2,142.8 382.4,143.6 380.5,144.3 379.1,144.8 377.3,144.8 375.5,145 374,145.9 372.2,146.7 370.5,147.3 368.8,148.6 367.4,149.2 365.6,149.7 364,150.6 362.3,151.3 360.4,151.7 358.8,152.5 357.7,154 356.7,155.5 355.4,156.4 353.9,157.3 352.8,159.3 353,161.4 353.2,163.2 353.4,165.8 354.4,167.9 355.3,169.4 356.6,170.5 358.3,171.1 360.1,171.9 361.5,173.2 363.3,176 362.4,175.4 360.9,174.5 359.5,172.9 358.2,171.7 356.3,171.4 354.8,171.2 353.4,170.3 351.6,169.6 349.8,169.8 348,169.8 346.2,170 344.4,170.4 342.7,170.5 341,171.9 339.6,173.6 337.7,174.2 335.2,174.9 333.9,175.6 332.5,176.4 330.9,177 329.4,178 328,179 326.4,179.5 324.9,180.2 323.5,181.1 321.9,181.6 320.1,181.7 318.5,182.4 316.9,183.3 315.2,183.9 313.9,185 312.9,186.2 311,187.4 309.2,188.3 307.9,189.6 306.7,192 306,192.9 306.2,192.8 304,192.5 302.3,192.4 300.7,191.8 299,191.5 297.2,192 295.1,192.7 293,192.5 291.2,191.7 289.6,190.8 288.2,190.5 286.5,190.1 284.8,189.5 283.1,189.1 281.5,188.1 279.9,187.2 277.8,186.1 275.7,184.7 274.5,183.1 274.2,180.8 273.4,178.8 272.4,177 271.7,175.2 270.1,173.8 268.2,171.4Z" fill="none" stroke="#000" stroke-width="1.1" stroke-linejoin="round"/>
<path d="M572.1,105.3 570.7,106.3 569,107.7 567.6,109.6 567,111.5 566.3,113.4 565.5,115.1 564.6,116.5 563.8,118.5 564.3,120.6 565.8,122 567,123.1 568.6,124.2 570.7,124.6 572.7,125.5 573.8,127 575,128.4 576.6,129.3 578.5,129.5 580.1,129.9 581.3,131.6 581.9,132.8 583.5,132.7 585.3,132 586.9,131.3 589.4,130.2 590.8,129.1 589.7,128.7 588.6,128 586.8,127.7 584.8,127.4 583,127 581.3,126.7 579.7,125.9 578.5,124.7 577.3,123.3 575.8,122.1 574.1,121.1 572.7,119.7 571.6,118.4 569.9,117.2 568.6,115.8 568.4,113.9 569.4,112.1 570.7,110.3 571.8,109 573.1,107.2 573.1,105.8Z" fill="none" stroke="#000" stroke-width="1.1" stroke-linejoin="round"/>
<path d="M824.5,207.6 824.1,208.9 823.9,211 823.4,213.3 822.6,215.5 822.3,217.3 822.6,219.2 823.3,221.1 823.5,223 823.3,224.9 823.9,226.8 824.9,228.5 825.6,230.3 826.9,232.1 828.2,233.2 829.6,234.4 830.9,235.8 832.3,237.3 833.6,238.5 835,239.4 837,240.4 839,241.1 840.8,240.7 841.8,239.7 842.8,239 844.1,237.6 844.6,235.5 845.1,233.6 845.8,231.9 845.2,230.4 843.5,229.4 842.1,228.1 840.9,226.6 839.7,225.2 838.6,223.7 837.4,222.5 836.2,221.2 835.2,219.9 833.7,219.4 831.5,219.1 830.1,217.9 829.6,216.1 829.1,214.4 828.7,212.9 827.6,210.5 826.6,208.4Z" fill="none" stroke="#000" stroke-width="1.1" stroke-linejoin="round"/>
<path d="M836.8,258.3 837.5,256.2 839,254.4 840.7,253.6 841.6,255 841.7,257.2 842.8,258.9 844.8,259.7 846.8,260.9 848,261.9 849.1,263.1 849.6,264.3 848.9,265.5 847.1,266.1 845.3,266.5 843.5,266.8 841.6,265.8 839.8,264.5 838,263.8 836.2,262.7 835.1,261.2 834.9,259.7Z" fill="none" stroke="#000" stroke-width="1.1" stroke-linejoin="round"/>
<path d="M845,271.7 846,273.4 846.9,276.2 846.4,278.1 844.6,279.2 842.5,280.2 841.5,282 841.3,283.6 840.8,285.3 840,287 839.5,288.8 840,290.4 841.1,292.1 842.3,293.5 843.8,294.8 845.5,295.9 846.9,296.4 848.2,297.6 849.8,298.5 851.5,299 853.1,299.7 854.5,300.3 856.5,300.9 858.6,301.1 860.2,300.9 862,301.3 863.6,300.4 863.7,298.1 864,295.9 864.9,294.2 865.1,292.7 864.6,291.3 863.5,290.3 861.7,289.1 860.9,287.9 859.6,286.9 858.1,285.8 856.8,284.5 855.4,283.5 854.3,282.6 852.4,281.4 850.7,280.6 849.4,279.1 849.1,277 848.8,275.1 848,273.6 846.8,271.7Z" fill="none" stroke="#000" stroke-width="1.1" stroke-linejoin="round"/>
<path d="M439.1,339.9 439.5,341.5 438.7,343.9 438.7,346.4 439.2,348 439.1,349.8 439.1,351.6 439,353.5 437.8,355.1 437,357.3 437.2,359.7 437.1,361.8 436.5,363.4 434.8,361.1 432.4,362.6 431.4,361.2 430.9,359.2 430.7,357.1 430.7,355.2 430.7,353.2 430.6,351.6 430.4,349.9 430.3,348.1 430.6,346.2 431.2,344.5 432.5,342.6 434,341 436.2,339.8Z" fill="none" stroke="#000" stroke-width="1.1" stroke-linejoin="round"/>
<path d="M438,283.3 440.7,283.3 441.8,285.2 442.3,287.3 441.8,289.7 439.9,290.4 439,289.5 438.3,288.8 436.4,287.9 435.5,285Z" fill="none" stroke="#000" stroke-width="1.1" stroke-linejoin="round"/>
<path d="M1009,385.8 1010.5,384.6 1012.2,383.4 1013.4,382.2 1015.2,382.2 1016.8,383.2 1018.7,384.3 1020.5,385.3 1022.5,386.8 1023.1,387.9 1023,388.8 1021.7,390.1 1020.3,391.2 1018.9,392.4 1016.9,392.8 1015.3,392.7 1013.6,392.2 1012,392 1009.4,392.3 1007.7,389.2 1007.7,387Z" fill="none" stroke="#000" stroke-width="1.1" stroke-linejoin="round"/>
<path d="M182,357.9 183.2,357.8 185,357 186.9,355.9 188.5,355.2 190.3,355.2 192.2,355.2 194,355.3 195.8,355.6 197.7,355.7 199.4,356.4 201.1,357.3 203.2,357.2 205.2,356.7 206.7,355.5 209,353.9 210.3,352.9 209.8,351.3 207.9,349.7 206.2,351.3 205,353.7 203.6,354.6 201.8,354.1 199.8,353.7 197.9,354 196.4,354.9 194.9,355.7 193.2,356 191.6,355.9 189.9,355.2 187.8,354.8 185.9,355.7 184.3,356.8 183,356.8Z" fill="none" stroke="#000" stroke-width="1.1" stroke-linejoin="round"/>
<path d="M247,353.7 247.4,355 248.2,356.8 249.1,358.8 249.3,360.6 247.7,362.3 245.8,363.6 245.1,364.6 246,365.4 247.9,366.9 249.9,368.2 251.9,368.4 253.9,368.3 255.8,368.5 257.6,369.5 259.1,370.9 260.2,372.4 261.2,373.9 262.5,374.8 264,375 265.8,375.2 268,375.6 270.2,375 271,372.4 270.5,370.1 269.7,368.5 268.2,366.9 266.3,366.9 263.8,366.2 262.6,365.3 261.1,364.3 259.5,363.1 257.8,361.9 256.6,360.5 255.5,359.2 254.4,357 254.1,355 253.3,353.3 251.1,353 248.9,354.1Z" fill="none" stroke="#000" stroke-width="1.1" stroke-linejoin="round"/>
<path d="M272.2,411.1 273.3,409.4 274.8,408.6 276.3,409.2 277.9,410.9 278.3,412.5 279,414.1 280.2,415.3 281.8,416.1 283.4,417 284.7,417.9 284.1,421.1 282.1,420.6 280.4,419.2 279.3,418 278,416.8 276.5,416.2 274.3,415.6 272.7,414.6 271.7,413Z" fill="none" stroke="#000" stroke-width="1.1" stroke-linejoin="round"/>
<path d="M192.7,20.5 194.2,20.1 196.3,19.5 198.5,19.5 200.1,20.1 202,21.4 202.4,23.5 201.7,25.2 200.5,27.2 199,28 197.5,27.1 195.5,25.9 193.9,24.6 193.1,22.6Z" fill="none" stroke="#000" stroke-width="1.1" stroke-linejoin="round"/>
<path d="M222.9,24.7 224.2,23.3 226.4,22.2 228.4,22.1 229.6,23.3 229.7,25.3 230.4,27.2 232.2,27.9 233.7,29.1 235.1,30.7 236.7,31.9 238.4,33.3 239.7,35 240.5,36.5 239,38.4 236.1,38.8 234.1,39.3 232.2,40.4 230.4,40.1 230.5,38.3 230,36.2 228.7,34.3 227.7,32.9 226.8,31.2 226.1,29.3 225,27.8 223.5,26.8 222.7,25.7Z" fill="none" stroke="#000" stroke-width="1.1" stroke-linejoin="round"/>
<path d="M429,366.1 430.5,365.5 432.4,365.1 434.2,365.1 435.8,366.8 435.9,369 435.3,370.4 434.8,372.2 434,373.5 431.7,373.9 429.6,373.9 427.8,372.5 427.4,370 428.2,367.8Z" fill="none" stroke="#000" stroke-width="1.1" stroke-linejoin="round"/>
<path d="M19.6,83.7 20.8,83.1 22.7,83.1 24.9,83.3 27,82.9 28.8,82.8 30.8,83.5 32.7,83.6 34.4,83.1 36.1,83.8 35,85.8 32.1,86.6 30.4,86.8 28.6,87 26.7,87.5 25,88 22.9,88.1 21.1,88.6 19.6,88.7 19,87 19.3,84.9Z" fill="none" stroke="#000" stroke-width="1.1" stroke-linejoin="round"/>
<path d="M0,77.1 1,76.1 2.5,76 4.3,76.1 6.2,75.9 8.1,75.8 9.7,76.1 11.6,76.8 13.5,77.4 15.3,77.4 16.9,77 18.4,77.5 18.1,79.4 16.3,80.7 14,81.5 12.5,81.8 10.9,82.6 9.3,83.7 7.7,84.6 6.1,84.8 3.6,84.9 1.4,85.1 -0.4,84.4 -1.1,82.7 -1.2,80.5 -0.8,78.4Z" fill="none" stroke="#000" stroke-width="1.1" stroke-linejoin="round"/>
<path d="M7.8,92.4 9.8,92.5 11.7,92.8 11,94.2 8,94.2Z" fill="none" stroke="#000" stroke-width="1.1" stroke-linejoin="round"/>
<path d="M15.5,99.3 17.1,98.8 18.9,99.3 20.4,100.4 21.5,101.5 20.1,102.6 18,102.9 15.9,102.3Z" fill="none" stroke="#000" stroke-width="1.1" stroke-linejoin="round"/>
<path d="M39.1,91.3 40.9,90.3 43.1,90.1 44.6,91.3 44.8,93 43.7,94.8 42,96.3 39.1,94.8 37.6,93.1Z" fill="none" stroke="#000" stroke-width="1.1" stroke-linejoin="round"/>
<path d="M48.7,87.6 50.2,87.6 52.2,87.7 54.1,87.1 56.7,87.7 57.2,90 55.4,90.9 54,92 53,92.9 51.2,92.7 49.6,91.4 49.3,89.3Z" fill="none" stroke="#000" stroke-width="1.1" stroke-linejoin="round"/>
<path d="M25.6,111.3 27.4,110.1 30.1,109.6 32.2,111.5 30.5,112.6 27.9,113.1 26.3,111.5Z" fill="none" stroke="#000" stroke-width="1.1" stroke-linejoin="round"/>
<path d="M4.7,131.5 6.4,131.3 8.5,131.9 10.3,132.8 11.7,133 12.6,134.6 11.6,136.5 9.8,138.1 9.2,140 9.4,141.5 9.2,143.3 9.1,145.1 9.5,146.6 10,148 9.6,150 8,151.7 6.7,152.9 6.1,153.4 5.1,153 3.4,151.5 2.7,149.2 3.1,147 3.1,145.3 3.8,143.5 5.1,142 5.3,140 4.8,137.9 4.8,135.7 5.3,133.6Z" fill="none" stroke="#000" stroke-width="1.1" stroke-linejoin="round"/>
<path d="M0.2,21.2 1.3,20 3.1,19.7 5.2,20.1 7.2,20.6 8.9,20.8 10.8,21.6 11.9,23.2 12.7,24.9 13.6,26.7 14,28.8 13.5,30.7 12.7,32.5 11.5,34.3 9.9,35.7 7.9,36.7 5.8,37.4 3.9,37.8 1.6,37.9 0.3,35.8 0.1,34.8 -0.2,33.3 0.1,31.4 0.5,29.4 0.4,27.4 -0.4,25.4 -1,23.5 -0.8,22Z" fill="none" stroke="#000" stroke-width="1.1" stroke-linejoin="round"/>
<path d="M23,45C25,45.3 31.5,46.5 35,47C38.5,47.5 40.7,48 44,48C47.3,48 51.6,47.3 55,47C58.4,46.7 61.2,46.9 64.5,46.4C67.8,45.9 72.1,44.5 75,44C77.9,43.5 79.2,43.1 82,43.4C84.8,43.7 89,45.1 92,46C95,46.9 97.8,47.8 100,49C102.2,50.2 104.2,52.3 105,53" fill="none" stroke="#000" stroke-width="1" stroke-dasharray="1.25 4.75"/>
<path d="M88,22C88.7,22.8 90.5,25.3 92,27C93.5,28.7 95.2,30.5 97,32C98.8,33.5 101.7,34.7 103,36C104.3,37.3 104.7,39.3 105,40" fill="none" stroke="#000" stroke-width="1" stroke-dasharray="1.25 4.75"/>
<path d="M111,76C112.2,75 115.5,72 118,70C120.5,68 123.7,66.3 126,64C128.3,61.7 130,58.5 132,56C134,53.5 137.5,51.3 138,49C138.5,46.7 134.7,44.5 135,42C135.3,39.5 138,36.2 140,34C142,31.8 144.3,29.7 147,29C149.7,28.3 153.2,29.5 156,30C158.8,30.5 161.7,32.3 164,32C166.3,31.7 168,29 170,28C172,27 175,26.3 176,26" fill="none" stroke="#000" stroke-width="1" stroke-dasharray="1.25 4.75"/>
<path d="M123,99C123.8,97.5 126,93.3 128,90C130,86.7 132.5,82.3 135,79C137.5,75.7 140.2,73 143,70C145.8,67 148.5,63.1 152,61C155.5,58.9 160,58.2 164,57.5C168,56.8 172,56.6 176,56.6C180,56.6 184.2,57.3 188,57.5C191.8,57.7 195.3,58.4 199,58C202.7,57.6 206,56 210,55C214,54 218.7,52 223,52C227.3,52 231.7,54 236,55C240.3,56 245.3,57 249,58C252.7,59 255.5,60 258,61C260.5,62 261.7,62.3 264,64C266.3,65.7 269.7,68.5 272,71C274.3,73.5 276.2,76.5 278,79C279.8,81.5 281.5,83.3 283,86C284.5,88.7 286,92 287,95C288,98 288.7,102.5 289,104" fill="none" stroke="#000" stroke-width="1" stroke-dasharray="1.25 4.75"/>
<path d="M176,26C177,27.2 180,30.7 182,33C184,35.3 185.7,37.8 188,40C190.3,42.2 193.2,44.5 196,46C198.8,47.5 202,48.7 205,49C208,49.3 211,48.5 214,48C217,47.5 221.5,46.3 223,46" fill="none" stroke="#000" stroke-width="1" stroke-dasharray="1.25 4.75"/>
<path d="M279,86C281.2,84.7 287.5,80.7 292,78C296.5,75.3 302,72.2 306,70C310,67.8 314.3,65.8 316,65" fill="none" stroke="#000" stroke-width="1" stroke-dasharray="1.25 4.75"/>
<path d="M283,93C285.7,94.1 294.1,98.9 299,99.7C303.9,100.5 309.2,98.5 312.5,98C315.8,97.5 317.9,96.7 319,96.4" fill="none" stroke="#000" stroke-width="1" stroke-dasharray="1.25 4.75"/>
<path d="M312.5,83C315.8,81.3 325.8,75.2 332.4,73C339,70.8 346.8,71.4 352.3,69.8C357.8,68.2 360.6,65.4 365.6,63.2C370.6,61 376.7,58.2 382.2,56.5C387.7,54.8 393.8,54.3 398.8,53.2C403.8,52.1 407.6,51.1 412,50C416.4,48.9 420.7,47.6 425.4,46.6C430.1,45.6 437.6,44.4 440,44" fill="none" stroke="#000" stroke-width="1" stroke-dasharray="1.25 4.75"/>
<path d="M299,53.2C301.8,52.1 310.2,48.3 315.8,46.6C321.4,44.9 326.9,44.3 332.4,43.2C337.9,42.1 343.5,40.8 349,40C354.5,39.2 362.8,38.6 365.6,38.3" fill="none" stroke="#000" stroke-width="1" stroke-dasharray="1.25 4.75"/>
<path d="M365.6,63.2C365.6,61.5 366.7,57.1 365.6,53.2C364.5,49.3 362.3,43.3 359,40C355.7,36.7 350.7,33.3 345.7,33.3C340.7,33.3 331.8,38.9 329,40" fill="none" stroke="#000" stroke-width="1" stroke-dasharray="1.25 4.75"/>
<path d="M398.8,53.2C399.3,51 400.9,43.9 402,40C403.1,36.1 404.6,33 405.4,30C406.2,27 406.7,23.3 407,22" fill="none" stroke="#000" stroke-width="1" stroke-dasharray="1.25 4.75"/>
<path d="M463,56.5C464.2,54.6 467.8,48.9 470,45C472.2,41.1 474.8,37.1 476.5,33.3C478.2,29.5 479.4,23.9 480,22" fill="none" stroke="#000" stroke-width="1" stroke-dasharray="1.25 4.75"/>
<path d="M533,36.6C534.1,38.3 536.3,43.3 539.6,46.6C542.9,49.9 549.5,53.2 552.8,56.5C556.1,59.8 557.5,63.2 559.5,66.5C561.5,69.8 564.1,74.4 565,76" fill="none" stroke="#000" stroke-width="1" stroke-dasharray="1.25 4.75"/>
<path d="M539.6,33.3C541.3,32.9 546.1,31.6 550,31C553.9,30.4 558.6,30.3 562.8,30C567,29.7 570.6,29.3 575,29C579.4,28.7 587,28.4 589.4,28.3" fill="none" stroke="#000" stroke-width="1" stroke-dasharray="1.25 4.75"/>
<path d="M655.8,26.6C656.3,28.8 657.9,36.1 659,40C660.1,43.9 660.7,46 662.4,49.9C664.1,53.8 666.8,59.3 669,63.2C671.2,67.1 674.6,71.4 675.7,73.1" fill="none" stroke="#000" stroke-width="1" stroke-dasharray="1.25 4.75"/>
<path d="M689,33.3C690.8,33 696.2,32 700,31.5C703.8,30.9 707.2,30.8 712,30C716.8,29.2 726,27.2 728.8,26.6" fill="none" stroke="#000" stroke-width="1" stroke-dasharray="1.25 4.75"/>
<path d="M712.2,53.2C713.3,54.9 717.7,61.5 718.8,63.2" fill="none" stroke="#000" stroke-width="1" stroke-dasharray="1.25 4.75"/>
<path d="M463.2,63.2C466,62.9 474.3,62.3 479.8,61.5C485.3,60.7 490.3,57.9 496.4,58.2C502.5,58.5 510.8,61.3 516.3,63.2C521.8,65.1 527.4,68.7 529.6,69.8" fill="none" stroke="#000" stroke-width="1" stroke-dasharray="1.25 4.75"/>
<path d="M700,34C703.3,33.8 712.5,32.7 720,33C727.5,33.3 736.7,35.3 745,36C753.3,36.7 761.7,36.8 770,37C778.3,37.2 787.5,37.2 795,37C802.5,36.8 808.3,36.7 815,36C821.7,35.3 828.3,34 835,33C841.7,32 849.2,31 855,30C860.8,29 867.5,27.5 870,27" fill="none" stroke="#000" stroke-width="1" stroke-dasharray="1.25 4.75"/>
<path d="M720,25C724.2,24.8 736.7,24.3 745,24C753.3,23.7 762.5,22.8 770,23C777.5,23.2 782.5,25 790,25C797.5,25 806.7,23.5 815,23C823.3,22.5 835.8,22.2 840,22" fill="none" stroke="#000" stroke-width="1" stroke-dasharray="1.25 4.75"/>
<path d="M496.4,106.3C497.5,109.6 500.8,119.6 503,126.2C505.2,132.8 506.9,141.8 509.7,146.2C512.5,150.6 514.6,152.2 519.6,152.8C524.6,153.4 533.5,149.5 539.6,149.5C545.7,149.5 549.6,152.2 556.2,152.8C562.8,153.4 571.7,152.2 579.4,152.8C587.1,153.4 594.9,155 602.6,156.1C610.4,157.2 620.9,157.7 625.9,159.4C630.9,161.1 631.4,165 632.5,166.1" fill="none" stroke="#000" stroke-width="1" stroke-dasharray="1.25 4.75"/>
<path d="M596,86.4C595.5,88.6 594.9,95.8 592.7,99.7C590.5,103.6 586.6,106.3 582.7,109.6C578.8,112.9 572.2,116.3 569.4,119.6C566.6,122.9 566.6,125.2 566.1,129.6C565.6,134 564.4,141.2 566.1,146.2C567.8,151.2 574.4,155 576.1,159.4C577.8,163.8 577.2,168.8 576.1,172.7C575,176.6 570.5,181 569.4,182.7" fill="none" stroke="#000" stroke-width="1" stroke-dasharray="1.25 4.75"/>
<path d="M629.2,159.4C631.4,156.6 639.2,149.4 642.5,142.8C645.8,136.2 646.9,126.2 649.1,119.6C651.3,113 655.8,107.4 655.8,103C655.8,98.6 652.4,95.2 649.1,93C645.8,90.8 638,90.2 635.8,89.7" fill="none" stroke="#000" stroke-width="1" stroke-dasharray="1.25 4.75"/>
<path d="M655.8,103C659.1,105.8 669.1,114.1 675.7,119.6C682.3,125.1 689,132.3 695.6,136.2C702.2,140.1 709.9,141.7 715.5,142.8C721.1,143.9 726.8,143 729,143" fill="none" stroke="#000" stroke-width="1" stroke-dasharray="1.25 4.75"/>
<path d="M629.2,159.4C631.4,162.7 638.1,173.9 642.5,179.4C646.9,184.9 651.4,188.2 655.8,192.6C660.2,197 666.3,202.8 669,206C671.7,209.2 671.5,211 672,212" fill="none" stroke="#000" stroke-width="1" stroke-dasharray="1.25 4.75"/>
<path d="M728.8,166.1C732.1,166.7 741.8,167.8 748.7,169.4C755.6,171.1 766.5,174.9 770,176" fill="none" stroke="#000" stroke-width="1" stroke-dasharray="1.25 4.75"/>
<path d="M459.9,146.2C460.9,145.2 463.8,142.2 466,140C468.2,137.8 472,134.1 473.2,132.9" fill="none" stroke="#000" stroke-width="1" stroke-dasharray="1.25 4.75"/>
<path d="M479.8,176C482.6,176.6 490.9,179.4 496.4,179.4C501.9,179.4 507.5,177.1 513,176C518.5,174.9 524.1,173.8 529.6,172.7C535.1,171.6 543.4,169.9 546.2,169.4" fill="none" stroke="#000" stroke-width="1" stroke-dasharray="1.25 4.75"/>
<path d="M459.9,159.4C459.9,162.2 457.7,170.5 459.9,176C462.1,181.5 471,189.8 473.2,192.6" fill="none" stroke="#000" stroke-width="1" stroke-dasharray="1.25 4.75"/>
<path d="M496.4,212.6C498.6,213.7 505.3,216.4 509.7,219.2C514.1,222 518.6,225.9 523,229.2C527.4,232.5 534,237.4 536.2,239.1" fill="none" stroke="#000" stroke-width="1" stroke-dasharray="1.25 4.75"/>
<path d="M489.8,215C492.6,215 501.4,213.1 506.4,215C511.4,216.9 515.3,223 519.7,226.6C524.1,230.2 528,232.6 533,236.5C538,240.4 544.1,245.9 549.6,249.8C555.1,253.7 561.2,256.5 566.2,259.8C571.2,263.1 577.2,268.1 579.4,269.7" fill="none" stroke="#000" stroke-width="1" stroke-dasharray="1.25 4.75"/>
<path d="M460,263C462.2,263 466.6,262.7 473.2,263C479.8,263.3 493.2,263 499.8,264.7C506.4,266.4 508,269.4 513,273C518,276.6 525.2,282.4 529.6,286.3C534,290.2 537.9,294.6 539.6,296.3" fill="none" stroke="#000" stroke-width="1" stroke-dasharray="1.25 4.75"/>
<path d="M657.5,200C659.4,202.8 666.5,212.9 669,216.6C671.5,220.3 671.8,221.1 672.4,222" fill="none" stroke="#000" stroke-width="1" stroke-dasharray="1.25 4.75"/>
<path d="M788.6,67.5C789.6,69.1 792.3,74.4 794.9,77C797.5,79.6 801.2,82.8 804.4,83.3C807.6,83.8 810.2,81.7 813.9,80.1C817.6,78.5 821.9,75.4 826.6,73.8C831.4,72.2 837.1,71.6 842.4,70.6C847.7,69.5 853.5,69.1 858.2,67.5C863,65.9 868.8,62.2 870.9,61.1" fill="none" stroke="#000" stroke-width="1" stroke-dasharray="1.25 4.75"/>
<path d="M817.1,86.5C820.8,88.1 835,91.3 839.2,96C843.4,100.7 842.4,109.1 842.4,114.9C842.4,120.7 840.8,126.6 839.2,130.8C837.6,135 836.6,137.2 832.9,140.3C829.2,143.5 820.3,146.5 817.1,149.7C813.9,152.8 814.4,157.6 813.9,159.2" fill="none" stroke="#000" stroke-width="1" stroke-dasharray="1.25 4.75"/>
<path d="M839.2,96C842.4,95.5 851.9,93.9 858.2,92.8C864.5,91.7 873,92.2 877.2,89.6C881.4,87 883.5,81.2 883.5,77C883.5,72.8 878.2,66.4 877.2,64.3" fill="none" stroke="#000" stroke-width="1" stroke-dasharray="1.25 4.75"/>
<path d="M842.4,133.9C845,133.6 852.4,132.8 858.2,132.3C864,131.8 870.9,131.3 877.2,130.8C883.5,130.3 890.9,129.7 896.2,129.2C901.5,128.7 906.8,127.9 908.9,127.6" fill="none" stroke="#000" stroke-width="1" stroke-dasharray="1.25 4.75"/>
<path d="M908.9,96C908.4,98.6 905.7,106.5 905.7,111.8C905.7,117.1 908.4,121.8 908.9,127.6C909.4,133.4 910,140.8 908.9,146.6C907.8,152.4 904.6,157.1 902.5,162.4C900.4,167.7 896.2,173.4 896.2,178.2C896.2,182.9 901.5,188.8 902.5,190.9" fill="none" stroke="#000" stroke-width="1" stroke-dasharray="1.25 4.75"/>
<path d="M700,140.3C702.6,140.8 710.5,143.2 715.8,143.4C721.1,143.7 729,142.1 731.6,141.8" fill="none" stroke="#000" stroke-width="1" stroke-dasharray="1.25 4.75"/>
<path d="M728.5,165.6C731.7,165.9 740.6,166.7 747.5,167.2C754.4,167.7 761.7,168.4 769.6,168.7C777.5,168.9 787.5,169.2 794.9,168.7C802.3,168.2 807,167.2 813.9,165.6C820.8,164 832.4,160.3 836.1,159.2" fill="none" stroke="#000" stroke-width="1" stroke-dasharray="1.25 4.75"/>
<path d="M794.9,168.7C794.6,171.9 793.4,181.4 793.4,187.7C793.4,194 794.5,201 794.9,206.7C795.3,212.4 795.8,219.4 796,222" fill="none" stroke="#000" stroke-width="1" stroke-dasharray="1.25 4.75"/>
<path d="M836.1,159.2C838.2,160.8 844,165.5 848.7,168.7C853.5,171.9 859.3,175 864.6,178.2C869.9,181.4 875.1,185.6 880.4,187.7C885.7,189.8 890.4,191.4 896.2,190.9C902,190.4 909.9,186.2 915.2,184.6C920.5,183 925.7,181.9 927.8,181.4" fill="none" stroke="#000" stroke-width="1" stroke-dasharray="1.25 4.75"/>
<path d="M896.2,197.2C895.7,199.8 894,207.7 893,213C892,218.3 890.4,223.1 889.9,228.9C889.4,234.7 890.2,242.3 889.9,247.8C889.6,253.3 888.3,259.6 888,262" fill="none" stroke="#000" stroke-width="1" stroke-dasharray="1.25 4.75"/>
<path d="M946.8,67.5C949.4,68 957.4,69.3 962.7,70.6C968,71.9 972.7,75.4 978.5,75.4C984.3,75.4 991.7,70.9 997.5,70.6C1003.3,70.3 1008.9,73.6 1013.3,73.8C1017.7,74 1022.2,72.3 1024,72" fill="none" stroke="#000" stroke-width="1" stroke-dasharray="1.25 4.75"/>
<path d="M940.5,114.9C943.7,113.9 953.2,110.4 959.5,108.6C965.8,106.8 972.2,105 978.5,103.9C984.8,102.9 992.2,103.1 997.5,102.3C1002.8,101.5 1008,99.6 1010.1,99.1" fill="none" stroke="#000" stroke-width="1" stroke-dasharray="1.25 4.75"/>
<path d="M978.5,156.1C981.7,158.7 992.2,167.2 997.5,171.9C1002.8,176.7 1005.7,180.8 1010.1,184.6C1014.5,188.4 1021.7,193.3 1024,195" fill="none" stroke="#000" stroke-width="1" stroke-dasharray="1.25 4.75"/>
<path d="M878,182C879.2,182.8 881.8,184.9 885.5,187C889.2,189.1 898.8,191.6 900.5,194.5C902.2,197.4 897.2,200.3 895.5,204.5C893.8,208.7 891.8,214.9 890.5,219.5C889.2,224.1 888.8,227.8 888,232C887.2,236.2 886.3,240.3 885.5,244.5C884.7,248.7 884.2,253.2 883,257C881.8,260.8 878.8,265.3 878,267" fill="none" stroke="#000" stroke-width="1" stroke-dasharray="1.25 4.75"/>
<path d="M863,242C865.1,242.4 872.6,242.4 875.5,244.5C878.4,246.6 879.7,252.8 880.5,254.5" fill="none" stroke="#000" stroke-width="1" stroke-dasharray="1.25 4.75"/>
<path d="M850.5,267C852.6,266.8 858.4,266.2 863,265.8C867.6,265.3 872.2,266 878,264.5C883.8,263 891.3,258.7 898,257C904.7,255.3 912.6,256.6 918,254.5C923.4,252.4 926.3,248.2 930.5,244.5C934.7,240.8 940.9,234.1 943,232" fill="none" stroke="#000" stroke-width="1" stroke-dasharray="1.25 4.75"/>
<path d="M830.5,297C832.6,295.3 838,289.1 843,287C848,284.9 855.5,284.5 860.5,284.5C865.5,284.5 869.2,284.5 873,287C876.8,289.5 880.5,295.3 883,299.5C885.5,303.7 888,308.2 888,312C888,315.8 885.5,319.1 883,322C880.5,324.9 876.3,327 873,329.5C869.7,332 866.8,334.1 863,337C859.2,339.9 853.8,343.7 850.5,347C847.2,350.3 845.1,354.2 843,357C840.9,359.8 839.4,361.5 838,364C836.6,366.5 836.8,369.3 834.7,372C832.7,374.7 828.7,377 825.7,380C822.7,383 819.1,386.7 816.6,390C814.1,393.3 811.6,398.3 810.6,400" fill="none" stroke="#000" stroke-width="1" stroke-dasharray="1.25 4.75"/>
<path d="M888,312C889.7,312.4 894.7,313.2 898,314.5C901.3,315.8 904.7,317.8 908,319.5C911.3,321.2 914.7,323.2 918,324.5C921.3,325.8 926.3,326.6 928,327" fill="none" stroke="#000" stroke-width="1" stroke-dasharray="1.25 4.75"/>
<path d="M898,267C901.3,267.4 911.3,268.7 918,269.5C924.7,270.3 932.2,270.3 938,272C943.8,273.7 950.5,278.2 953,279.5" fill="none" stroke="#000" stroke-width="1" stroke-dasharray="1.25 4.75"/>
<path d="M958,224.5C959.7,224.9 963,226.2 968,227C973,227.8 982.2,228.7 988,229.5C993.8,230.3 998,231.2 1003,232C1008,232.8 1015.5,234.1 1018,234.5" fill="none" stroke="#000" stroke-width="1" stroke-dasharray="1.25 4.75"/>
<path d="M988,282C988.8,284.1 991.8,290.3 993,294.5C994.2,298.7 994.7,302.4 995.5,307C996.3,311.6 996.8,317 998,322C999.2,327 1001.3,332 1003,337C1004.7,342 1005.5,347.5 1008,352C1010.5,356.5 1015.3,361 1018,364C1020.7,367 1023,369 1024,370" fill="none" stroke="#000" stroke-width="1" stroke-dasharray="1.25 4.75"/>
<path d="M943,307C944.7,308.7 950.5,313.2 953,317C955.5,320.8 957.2,324.9 958,329.5C958.8,334.1 957.2,339.9 958,344.5C958.8,349.1 962.9,350.1 963,357C963.1,363.9 957.2,380.4 958.5,385.7C959.8,391 965.6,387.7 970.6,388.7C975.6,389.7 984.2,390.2 988.7,391.7C993.2,393.2 995.2,394.2 997.7,397.7C1000.2,401.2 1002.3,408.3 1003.8,412.8C1005.3,417.3 1006.8,419.9 1006.8,424.9C1006.8,429.9 1004.8,437 1003.8,443C1002.8,449 1001.3,456.1 1000.8,461.1C1000.3,466.1 1000.8,471.2 1000.8,473.2" fill="none" stroke="#000" stroke-width="1" stroke-dasharray="1.25 4.75"/>
<path d="M898,322C897.2,323.7 893.8,328.2 893,332C892.2,335.8 892.2,340.3 893,344.5C893.8,348.7 896.1,354.7 898,357C899.9,359.3 900.7,357.2 904.2,358.5C907.7,359.8 915.7,366 919.2,364.5C922.7,363 924.2,352.7 925.3,349.4C926.3,346.1 923.4,345.7 925.5,344.5C927.6,343.3 933.4,342 938,342C942.6,342 949.2,342.8 953,344.5C956.8,346.2 959.2,349.1 960.5,352C961.8,354.9 960.5,360.3 960.5,362" fill="none" stroke="#000" stroke-width="1" stroke-dasharray="1.25 4.75"/>
<path d="M720,397.7C723,398.2 732.6,398.8 738.1,400.8C743.6,402.8 749.2,405.8 753.2,409.8C757.2,413.8 762.8,420.9 762.3,424.9C761.8,428.9 754.7,431 750.2,434C745.7,437 740.1,440.2 735.1,443C730.1,445.8 722.5,449.3 720,450.6" fill="none" stroke="#000" stroke-width="1" stroke-dasharray="1.25 4.75"/>
<path d="M559.5,342.8C559,345.6 556.2,354.4 556.2,359.4C556.2,364.4 556.7,368.7 559.5,372.6C562.3,376.5 566.1,380.9 572.8,382.6C579.4,384.3 591.6,382.9 599.4,382.6C607.1,382.3 612.7,380.4 619.3,381C625.9,381.6 631.5,384.1 639.2,386C647,387.9 656.9,391.5 665.8,392.6C674.6,393.7 684,392.1 692.3,392.6C700.6,393.2 709,394.8 715.6,395.9C722.2,397 727.2,397.5 732.2,399.2C737.2,400.9 741.5,403 745.4,405.8C749.3,408.6 752.6,412.5 755.4,415.8C758.2,419.1 760.9,424.1 762,425.8" fill="none" stroke="#000" stroke-width="1" stroke-dasharray="1.25 4.75"/>
<path d="M0,549.7C6.7,549.7 26.7,549.7 40,549.7C53.3,549.7 66.7,549.7 80,549.7C93.3,549.7 106.7,549.7 120,549.7C133.3,549.7 148.6,549.7 160,549.7C171.4,549.7 183.9,549.7 188.7,549.7" fill="none" stroke="#000" stroke-width="1" stroke-dasharray="1.25 4.75"/>
<path d="M16.6,549.2C18.3,545.9 22.7,536.7 26.6,529.2C30.5,521.7 33.2,509.8 39.8,504.3C46.4,498.8 57.5,498.2 66.4,496C75.3,493.8 85.2,493.8 93,491C100.8,488.2 106.3,484.6 112.9,479.4C119.5,474.1 125.6,465.6 132.8,459.5C140,453.4 149.4,447.3 156,442.9C162.6,438.5 166.5,436.9 172.6,433C178.7,429.1 187.1,423 192.6,419.7C198.1,416.4 203.6,414.1 205.8,413" fill="none" stroke="#000" stroke-width="1" stroke-dasharray="1.25 4.75"/>
<path d="M86.3,542.5C88.5,540.9 94.1,536.5 99.6,532.6C105.1,528.7 114,523.7 119.5,519.3C125,514.9 128.9,511.5 132.8,506C136.7,500.5 140.6,491.6 142.8,486.1C145,480.6 144.6,476.8 146.1,472.8C147.6,468.8 148.7,464.5 152,462C155.3,459.5 160.3,459.7 166,458C171.7,456.3 179.4,453.9 186,452C192.6,450.1 201.4,444.9 205.8,446.6C210.2,448.3 212.5,456.8 212.5,462C212.5,467.2 208,472.9 205.8,478C203.6,483.1 200.3,487 199.2,492.7C198.1,498.4 199.2,505.4 199.2,512C199.2,518.5 198.7,525.4 199.2,532C199.7,538.6 201.9,548.6 202.4,551.9" fill="none" stroke="#000" stroke-width="1" stroke-dasharray="1.25 4.75"/>
<path d="M146.1,492.7C150.5,492.7 163.8,492.7 172.6,492.7C181.4,492.7 194.8,492.7 199.2,492.7" fill="none" stroke="#000" stroke-width="1" stroke-dasharray="1.25 4.75"/>
<path d="M132.8,379.8C133.1,384.2 132.8,399.8 134.5,406.4C136.2,413 137.6,415.3 142.8,419.7C148.1,424.1 162.1,430.8 166,433" fill="none" stroke="#000" stroke-width="1" stroke-dasharray="1.25 4.75"/>
<path d="M192.6,373.2C193.2,378.7 192.6,398.6 195.9,406.4C199.2,414.1 206.4,417.5 212.5,419.7C218.6,421.9 225.8,420 232.4,419.7C239,419.4 245.7,418.3 252.3,418C258.9,417.7 265.6,418.3 272.2,418C278.8,417.7 288.9,416.7 292.2,416.4" fill="none" stroke="#000" stroke-width="1" stroke-dasharray="1.25 4.75"/>
<path d="M215.8,419.7C216.4,423 216.3,435.7 219.1,439.6C221.9,443.5 226.9,442.6 232.4,442.9C237.9,443.2 249,441.6 252.3,441.3" fill="none" stroke="#000" stroke-width="1" stroke-dasharray="1.25 4.75"/>
<path d="M249,418C249.6,421.6 252.3,433.2 252.3,439.6C252.3,446 249.6,449.6 249,456.2C248.4,462.8 249,475.5 249,479.4" fill="none" stroke="#000" stroke-width="1" stroke-dasharray="1.25 4.75"/>
<path d="M292.2,386.5C293.3,389.8 297.7,399.2 298.8,406.4C299.9,413.6 295.5,424.9 298.8,429.6C302.1,434.3 311.8,433.5 318.7,434.6C325.6,435.7 336.4,436 340,436.3" fill="none" stroke="#000" stroke-width="1" stroke-dasharray="1.25 4.75"/>
<path d="M205.8,482.8C210.2,482.2 223.5,479.4 232.4,479.4C241.3,479.4 250.2,483.4 259,482.8C267.9,482.2 281.1,477.2 285.5,476.1" fill="none" stroke="#000" stroke-width="1" stroke-dasharray="1.25 4.75"/>
<path d="M240,440.6C244.2,440.2 257.8,439.8 265.4,438.1C273,436.4 282.3,431.8 285.7,430.5" fill="none" stroke="#000" stroke-width="1" stroke-dasharray="1.25 4.75"/>
<path d="M290.8,434.3C294.2,434.1 304.8,432.8 311.1,433C317.5,433.2 321.7,433.7 328.9,435.6C336.1,437.5 345.8,441.9 354.3,444.4C362.8,446.9 372.1,449.1 379.7,450.8C387.3,452.5 396.6,454 400,454.6" fill="none" stroke="#000" stroke-width="1" stroke-dasharray="1.25 4.75"/>
<path d="M240,481.3C242.5,481.3 249.7,481.7 255.2,481.3C260.7,480.9 267.5,479.8 273,478.7C278.5,477.6 285.7,475.5 288.2,474.9" fill="none" stroke="#000" stroke-width="1" stroke-dasharray="1.25 4.75"/>
<path d="M250.2,415.2C250.4,419 251.4,427.1 251.4,438.1C251.4,449.1 250.4,474.1 250.2,481.3" fill="none" stroke="#000" stroke-width="1" stroke-dasharray="1.25 4.75"/>
<path d="M188.7,549.7C189.1,551 189.1,553.8 191.4,557.3C193.7,560.8 198.3,567.4 202.4,571C206.5,574.6 211.9,576.5 216,579.2C220.1,581.9 223.3,584.2 227,587.4C230.7,590.6 233.8,594.3 237.9,598.4C242,602.5 247.5,607.9 251.6,612C255.7,616.1 258.9,619.8 262.5,623C266.1,626.2 271.6,629.8 273.4,631.2" fill="none" stroke="#000" stroke-width="1" stroke-dasharray="1.25 4.75"/>
<path d="M202.4,551.9C204.2,554.2 209.2,561.4 213.3,565.5C217.4,569.6 222.4,572.4 227,576.5C231.6,580.6 236,585.2 240.6,590.2C245.2,595.2 249.7,602.1 254.3,606.6C258.9,611.1 263.9,614.3 268,617.5C272.1,620.7 277.1,624.3 278.9,625.7" fill="none" stroke="#000" stroke-width="1" stroke-dasharray="1.25 4.75"/>
<path d="M277.3,622.9C280.5,622.5 292.4,619.3 296.5,620.2C300.6,621.1 302,624.8 302,628.4C302,632 299.2,637.9 296.5,642C293.8,646.1 287.8,649.4 285.5,653C283.2,656.6 281.9,660.3 282.8,663.9C283.7,667.5 287.8,671.1 291,674.8C294.2,678.4 299.3,682.1 302,685.8C304.7,689.4 305.8,692.3 307.4,696.7C309,701.1 310.8,709.5 311.5,712" fill="none" stroke="#000" stroke-width="1" stroke-dasharray="1.25 4.75"/>
<path d="M273,626C276.2,625.7 288,623.3 292,624C296,624.7 297.2,626.8 297,630C296.8,633.2 293.8,638.8 291,643C288.2,647.2 282.2,651.3 280,655C277.8,658.7 277,661.3 278,665C279,668.7 282.8,673.2 286,677C289.2,680.8 294.3,684.3 297,688C299.7,691.7 300.5,695 302,699C303.5,703 305.3,709.8 306,712" fill="none" stroke="#000" stroke-width="1" stroke-dasharray="1.25 4.75"/>
<path d="M411.3,300C410.9,301.4 409.3,305.2 408.6,308.2C407.9,311.2 407.3,314.6 407.3,317.8C407.3,321 408.4,324.4 408.6,327.4C408.8,330.4 409.3,333.8 408.6,335.6C407.9,337.4 406.8,338.2 404.5,338.4C402.2,338.6 396.5,337.2 394.9,337" fill="none" stroke="#000" stroke-width="1" stroke-dasharray="1.25 4.75"/>
<path d="M403.1,341.1C403.3,342 404.3,344.3 404.5,346.6C404.7,348.9 404.5,352.6 404.5,354.9C404.5,357.2 402.9,359.5 404.5,360.4C406.1,361.3 411.1,360.6 414.1,360.4C417.1,360.2 420.5,359.7 422.3,359C424.1,358.3 424.6,356.7 425,356.2" fill="none" stroke="#000" stroke-width="1" stroke-dasharray="1.25 4.75"/>
<path d="M414.1,300C415.9,300.4 421.8,301.6 425,302.7C428.2,303.8 431.9,306.2 433.3,306.9" fill="none" stroke="#000" stroke-width="1" stroke-dasharray="1.25 4.75"/>
<path d="M217.4,356C217.4,360.8 217.4,377.4 217.4,385C217.4,392.6 217.2,395.3 217.4,401.5C217.6,407.7 218.6,418.6 218.8,422" fill="none" stroke="#000" stroke-width="1" stroke-dasharray="1.25 4.75"/>
<path d="M224,390C226.7,391.3 235,396.3 240,398C245,399.7 250.3,401 254,400C257.7,399 260.3,395.2 262,392C263.7,388.8 263.7,382.8 264,381" fill="none" stroke="#000" stroke-width="1" stroke-dasharray="1.25 4.75"/>
<path d="M402.5,487.6C405.9,487.4 416,487.2 422.8,486.3C429.6,485.4 436.4,482.7 443.2,482.5C450,482.3 458,483.2 463.5,485.1C469,487 472.4,491.2 476.2,494C480,496.8 482.3,500.6 486.3,501.6C490.3,502.7 494.8,500.3 500,500.3C505.2,500.3 512.2,501.1 517.4,501.5C522.6,501.9 527.9,503.3 531.1,502.8C534.3,502.3 533.9,501.2 536.6,498.7C539.4,496.2 545.1,487.3 547.6,487.8C550.1,488.3 550.8,497.4 551.7,501.5C552.6,505.6 551,509.5 553.1,512.5C555.2,515.5 559.1,517.9 564.1,519.3C569.1,520.7 577.4,520 583.3,520.7C589.2,521.4 594.7,523.2 599.7,523.4C604.7,523.6 608.8,522.9 613.4,522C618,521.1 622.1,519.9 627.1,517.9C632.1,515.9 638.1,512.4 643.6,509.7C649.1,507 654.5,504 660,501.5C665.5,499 671.5,496.4 676.5,494.6C681.5,492.8 686.6,491.6 690.2,490.5C693.9,489.4 695.2,488.2 698.4,487.8C701.6,487.4 705.3,487.6 709.4,487.8C713.5,488 718.5,488.9 723.1,489.1C727.7,489.3 729.5,488.9 736.8,489.1C744.1,489.3 758.3,489.2 766.9,490.3C775.5,491.4 781.1,492.9 788.2,495.6C795.3,498.3 802.3,503.2 809.4,506.3C816.5,509.4 823.6,513.3 830.7,514.2C837.8,515.1 846.6,510.3 851.9,511.6C857.2,512.9 859,517.8 862.6,522.2C866.2,526.6 867.9,534.2 873.2,538.2C878.5,542.2 889.2,542.6 894.5,546.1C899.8,549.6 900.7,557.2 905.1,559.4C909.5,561.6 916.6,557.6 921,559.4C925.4,561.2 925.4,566.5 931.6,570C937.8,573.5 949.3,576.3 958.2,580.7C967.1,585.1 975.9,593.1 984.8,596.6C993.6,600.1 1004.8,600.1 1011.3,601.9C1017.8,603.7 1021.9,606.3 1024,607.2" fill="none" stroke="#000" stroke-width="1" stroke-dasharray="1.25 4.75"/>
<path d="M616.2,523.4C618.9,524.3 627.6,526.6 632.6,528.9C637.6,531.2 642.6,534.4 646.3,537.1C650,539.9 652.3,542.6 654.6,545.4C656.9,548.1 658.2,550.4 660,553.6C661.8,556.8 664.5,558.3 665.5,564.6C666.5,570.9 666.8,581.5 666,591.3C665.2,601.1 661.6,612.6 660.7,623.2C659.8,633.8 658.9,647 660.7,655C662.5,663 666,670.1 671.3,671C676.6,671.9 685.4,663.1 692.5,660.4C699.6,657.7 706.7,655.9 713.8,655C720.9,654.1 727.9,654.1 735,655C742.1,655.9 749.2,656.9 756.3,660.4C763.4,663.9 770.5,671.9 777.6,676.3C784.7,680.7 791.7,686.1 798.8,687C805.9,687.9 813,683.4 820.1,681.6C827.2,679.8 834.2,676.3 841.3,676.3C848.4,676.3 855.5,679 862.6,681.6C869.7,684.2 876.8,688.7 883.9,692.2C891,695.8 899.8,699.6 905.1,702.9C910.4,706.2 913.9,710.5 915.7,712" fill="none" stroke="#000" stroke-width="1" stroke-dasharray="1.25 4.75"/>
<path d="M701.2,485C701.7,482.3 702.5,473.2 703.9,468.6C705.3,464 706.2,460.8 709.4,457.6C712.6,454.4 717.6,452.1 723.1,449.4C728.6,446.6 736.3,444.3 742.3,441.1C748.2,437.9 755.6,433.4 758.8,430.2C762,427 762.4,425.1 761.5,421.9C760.6,418.7 756.5,413.7 753.3,411C750.1,408.3 746.4,406.9 742.3,405.5C738.2,404.1 730.9,403.2 728.6,402.7" fill="none" stroke="#000" stroke-width="1" stroke-dasharray="1.25 4.75"/>
<path d="M878.5,400C877.6,402.6 875.9,409.7 873.2,415.9C870.6,422.1 864.4,433.6 862.6,437.2" fill="none" stroke="#000" stroke-width="1" stroke-dasharray="1.25 4.75"/>
<path d="M1006,400C1006.9,402.6 1011.3,409.7 1011.3,415.9C1011.3,422.1 1009.5,430.1 1006,437.2C1002.5,444.3 995.4,451.3 990.1,458.4C984.8,465.5 980.4,472.6 974.2,479.7C968,486.8 959.1,493.9 952.9,501C946.7,508.1 942.3,516 937,522.2C931.7,528.4 925.4,532.9 921,538.2C916.6,543.5 913,550.6 910.4,554.1C907.8,557.6 906,558.5 905.1,559.4" fill="none" stroke="#000" stroke-width="1" stroke-dasharray="1.25 4.75"/>
<path d="M921,559.4C918.4,562 909.5,570 905.1,575.3C900.7,580.6 896.3,585.1 894.5,591.3C892.7,597.5 892.7,604.5 894.5,612.5C896.3,620.5 902.5,632 905.1,639.1C907.8,646.2 909.5,652.4 910.4,655" fill="none" stroke="#000" stroke-width="1" stroke-dasharray="1.25 4.75"/>
<path d="M862.6,570C859,570.9 850.2,572.6 841.3,575.3C832.4,578 818.2,581.6 809.4,586C800.5,590.4 793.5,594.8 788.2,601.9C782.9,609 781.2,621.4 777.6,628.5C774,635.6 770.5,640 766.9,644.4C763.3,648.8 759.8,651.5 756.3,655C752.8,658.5 749.2,663 745.7,665.7C742.2,668.4 736.8,670.1 735,671" fill="none" stroke="#000" stroke-width="1" stroke-dasharray="1.25 4.75"/>
<path d="M511.2,578.4C511.2,581.1 510.5,591.2 511.2,594.9C511.9,598.6 513.2,598.8 515.3,600.4C517.3,602 522.1,602.7 523.5,604.5C524.9,606.3 523.9,608.8 523.5,611.3C523.1,613.8 521.4,617.1 521.4,619.6C521.4,622.1 522.5,624.6 523.5,626.4C524.5,628.2 525.6,629.6 527.6,630.5C529.6,631.4 533.5,631 535.8,631.9C538.1,632.8 539.3,633.8 541.3,636C543.3,638.2 545.8,641.8 548,645C550.2,648.2 552.4,648.9 554.4,655C556.4,661.1 557.9,673.6 559.7,681.6C561.5,689.6 564,697.8 565,702.9C566,708 565.8,710.5 566,712" fill="none" stroke="#000" stroke-width="1" stroke-dasharray="1.25 4.75"/>
<path d="M500.2,573.6C502,572.8 507.5,570.3 511.2,568.8C514.9,567.3 518.5,564.9 522.1,564.7C525.8,564.5 529.4,567.2 533.1,567.4C536.8,567.6 541.1,566.7 544.1,566.1C547.1,565.5 549.1,563.8 550.9,564C552.7,564.2 554.1,565.7 555,567.4C555.9,569.1 555,572.2 556.4,574.3C557.8,576.4 560.5,578.4 563.3,579.8C566,581.2 570.4,580.7 572.9,582.5C575.4,584.3 577.3,588.8 578.4,590.8C579.5,592.8 578.6,594 579.7,594.2C580.8,594.4 583.5,592.9 585.2,592.1C586.9,591.3 586.9,589.4 590,589.4C593.1,589.4 599.3,589.9 604,592C608.7,594.1 610.5,601.1 618.2,601.9C625.9,602.7 642,598.4 650,596.6C658,594.8 663.3,592.2 666,591.3" fill="none" stroke="#000" stroke-width="1" stroke-dasharray="1.25 4.75"/>
<path d="M720,488.3C725,488.6 740.1,489.3 750.2,489.8C760.3,490.3 773.4,490 780.4,491.3C787.4,492.6 790.5,496.4 792.5,497.4" fill="none" stroke="#000" stroke-width="1" stroke-dasharray="1.25 4.75"/>
<path d="M-0.6,21.4H1024" fill="none" stroke="#000" stroke-opacity="0.6" stroke-width="1.2" stroke-dasharray="1.2 4.8"/>
<path d="M1023.4,21.6V711.4H0.6V357" fill="none" stroke="#000" stroke-width="1.1" stroke-dasharray="1.2 4.8"/>
<path d="M576.7,40.6C576.9,39.5 579.6,38.6 581,38.4C582.4,38.2 585,38.8 585.3,39.5C585.6,40.2 582.6,41.8 583,42.7C583.4,43.6 585.9,44.9 587.4,44.9C588.9,44.9 590.1,43.8 591.7,42.7C593.3,41.6 595,39.5 597,38.4C599,37.3 601.5,37.4 603.5,36.3C605.5,35.2 607.4,33.6 609,32C610.6,30.4 612.3,27.2 613.2,26.6C614.1,26.1 614.7,27.3 614.3,28.7C613.9,30.1 612.1,33.6 611,35.2C609.9,36.8 609.6,37.7 607.8,38.4C606,39.1 602.3,38.8 600.3,39.5C598.3,40.2 597.6,41.1 596,42.7C594.4,44.3 592.4,48.5 590.6,49.2C588.8,49.9 587.1,47.7 585.3,47C583.5,46.3 581.4,46 580,44.9C578.6,43.8 576.5,41.7 576.7,40.6Z" fill="#ffffff" stroke="#000" stroke-width="0.9"/>
</g>
</svg>
</body></html>
